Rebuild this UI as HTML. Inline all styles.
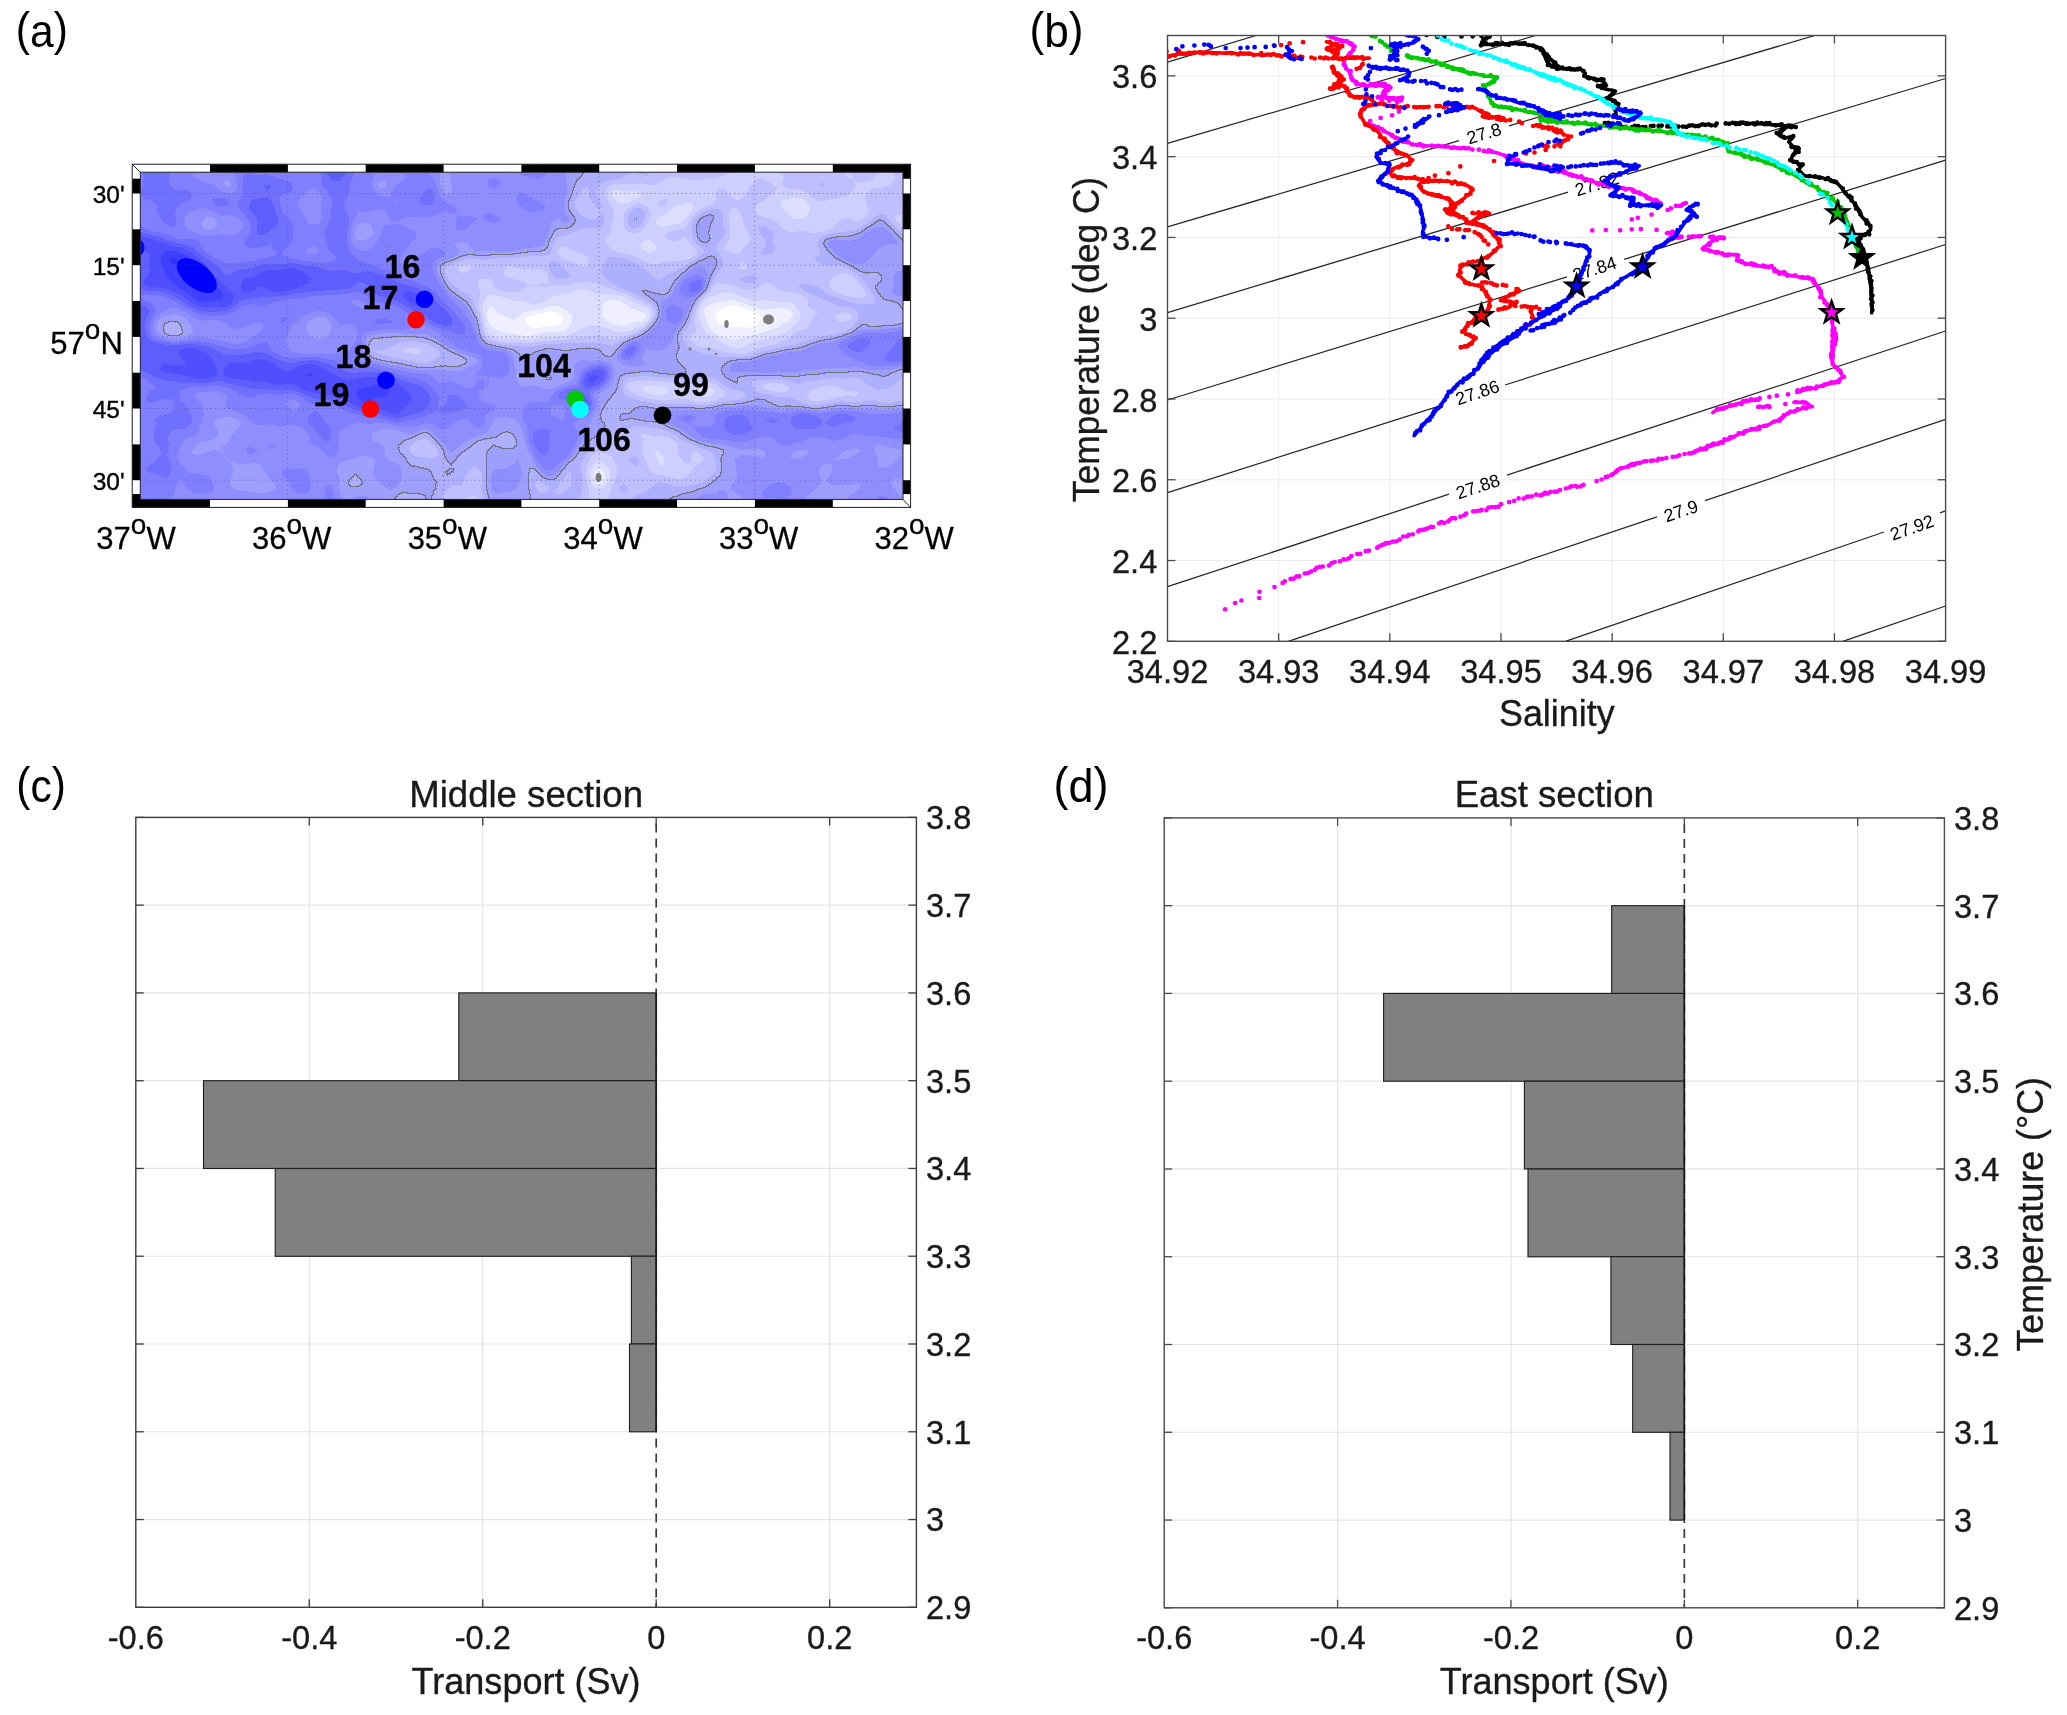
<!DOCTYPE html>
<html><head><meta charset="utf-8"><title>figure</title>
<style>
html,body{margin:0;padding:0;background:#fff;}
body{width:2067px;height:1715px;overflow:hidden;}
svg{display:block;font-family:"Liberation Sans", sans-serif;will-change:transform;}
</style></head><body>
<svg width="2067" height="1715" viewBox="0 0 2067 1715">
<rect width="2067" height="1715" fill="#ffffff"/>
<text x="15.8" y="45.099999999999994" font-size="47" fill="#000" textLength="52" lengthAdjust="spacingAndGlyphs">(<tspan dy="1.7">a</tspan><tspan dy="-1.7">)</tspan></text>
<text x="1029.5" y="45.099999999999994" font-size="47" fill="#000" textLength="54" lengthAdjust="spacingAndGlyphs">(<tspan dy="1.7">b</tspan><tspan dy="-1.7">)</tspan></text>
<text x="16.3" y="800.3" font-size="47" fill="#000" textLength="49.5" lengthAdjust="spacingAndGlyphs">(<tspan dy="1.7">c</tspan><tspan dy="-1.7">)</tspan></text>
<text x="1053.5" y="800.3" font-size="47" fill="#000" textLength="55" lengthAdjust="spacingAndGlyphs">(<tspan dy="1.7">d</tspan><tspan dy="-1.7">)</tspan></text>
<g id="panel-a">
<defs>
<linearGradient id="mbase" x1="0" x2="1" y1="0" y2="0">
<stop offset="0" stop-color="#7c7c7c"/><stop offset="0.45" stop-color="#868686"/><stop offset="0.6" stop-color="#a4a4a4"/><stop offset="1" stop-color="#a8a8a8"/>
</linearGradient>
<filter id="mapf" x="0" y="0" width="1" height="1" filterUnits="objectBoundingBox" color-interpolation-filters="sRGB">
<feGaussianBlur stdDeviation="4.5" result="b0"/>
<feTurbulence type="fractalNoise" baseFrequency="0.020 0.026" numOctaves="2" seed="5" result="n0"/>
<feColorMatrix in="n0" type="matrix" values="1 0 0 0 0  1 0 0 0 0  1 0 0 0 0  0 0 0 0 1" result="n"/>
<feComposite in="b0" in2="n" operator="arithmetic" k1="0" k2="1" k3="0.22" k4="-0.118" result="b"/>
<feComponentTransfer in="b" result="q">
<feFuncR type="discrete" tableValues="0 .06 .12 .19 .25 .31 .37 .44 .5 .56 .62 .69 .75 .81 .87 .94 1"/>
<feFuncG type="discrete" tableValues="0 .06 .12 .19 .25 .31 .37 .44 .5 .56 .62 .69 .75 .81 .87 .94 1"/>
<feFuncB type="discrete" tableValues="1 1"/>
<feFuncA type="discrete" tableValues="1 1"/>
</feComponentTransfer>
<feComponentTransfer in="b" result="bin">
<feFuncR type="discrete" tableValues="0 0 0 0 0 0 0 0 0 0 0 1 1 1 1 1 1"/>
</feComponentTransfer>
<feColorMatrix in="bin" type="matrix" values="0 0 0 0 0.45  0 0 0 0 0.45  0 0 0 0 0.5  1 0 0 0 0" result="binA"/>
<feMorphology in="binA" operator="dilate" radius="0.9" result="dil"/>
<feComposite in="dil" in2="binA" operator="out" result="edge"/>
<feMerge><feMergeNode in="q"/><feMergeNode in="edge"/></feMerge>
</filter>
<clipPath id="clipa"><rect x="132.2" y="164.2" width="778.4" height="343.2"/></clipPath>
</defs>
<g clip-path="url(#clipa)">
<g filter="url(#mapf)">
<rect x="92.19999999999999" y="124.19999999999999" width="858.4000000000001" height="423.2" fill="url(#mbase)"/>
<ellipse cx="197.7" cy="219.0" rx="20.5" ry="16.2" fill="#949494" transform="rotate(20 197.7 219.0)"/>
<ellipse cx="227.9" cy="184.5" rx="8.6" ry="8.6" fill="#949494"/>
<ellipse cx="173.9" cy="333.3" rx="23.7" ry="20.5" fill="#949494"/>
<ellipse cx="175.0" cy="335.5" rx="11.9" ry="12.9" fill="#a1a1a1"/>
<polygon points="240.8,162.9 271.0,162.9 279.6,221.2 258.1,240.6 245.1,214.7" fill="#6e6e6e"/>
<polygon points="320.6,162.9 348.6,162.9 348.6,251.4 327.1,251.4" fill="#6e6e6e"/>
<polygon points="141.6,162.9 171.8,162.9 169.6,195.3 141.6,201.8" fill="#707070"/>
<ellipse cx="363.7" cy="236.3" rx="15.1" ry="18.3" fill="#949494"/>
<ellipse cx="381.0" cy="184.5" rx="8.6" ry="6.5" fill="#9e9e9e"/>
<polygon points="132.9,232.0 163.1,238.4 191.2,247.1 221.4,266.5 240.8,288.1 232.2,307.5 210.6,316.1 184.7,307.5 163.1,292.4 132.9,288.1" fill="#5c5c5c"/>
<polygon points="163.1,251.4 191.2,257.9 217.1,279.4 221.4,298.8 202.0,303.1 176.1,288.1" fill="#4c4c4c"/>
<polygon points="221.4,270.8 249.4,262.2 292.6,260.0 335.7,262.2 368.1,270.8 400.4,279.4 426.3,290.2 450.0,309.6 473.8,320.4 465.1,335.5 439.2,329.0 417.7,313.9 389.6,301.0 357.3,296.7 314.1,294.5 271.0,298.8 232.2,301.0" fill="#696969"/>
<polygon points="240.8,279.4 271.0,268.6 314.1,267.6 346.5,274.0 357.3,282.7 335.7,290.2 303.3,288.1 271.0,292.4 243.0,291.3" fill="#545454"/>
<polygon points="396.1,288.1 426.3,296.7 447.9,316.1 465.1,326.9 456.5,333.3 430.6,322.6 411.2,307.5" fill="#595959"/>
<polygon points="132.9,337.7 163.1,339.8 212.8,344.1 221.4,367.9 214.9,383.0 184.7,385.1 132.9,372.2" fill="#5e5e5e"/>
<polygon points="132.9,301.0 154.5,305.3 145.9,344.1 132.9,344.1" fill="#666666"/>
<polygon points="212.8,344.1 249.4,350.6 292.6,357.1 335.7,361.4 368.1,367.9 400.4,376.5 430.6,385.1 437.1,395.9 422.0,413.2 400.4,421.8 368.1,415.3 335.7,404.5 292.6,393.7 249.4,389.4 217.1,385.1" fill="#666666"/>
<polygon points="227.9,357.1 271.0,363.5 314.1,365.7 357.3,372.2 389.6,380.8 422.0,389.4 417.7,404.5 396.1,413.2 357.3,406.7 324.9,395.9 292.6,387.3 249.4,383.0 223.5,376.5" fill="#545454"/>
<ellipse cx="320.6" cy="333.3" rx="36.7" ry="20.5" fill="#999999"/>
<ellipse cx="322.8" cy="328.0" rx="12.9" ry="12.9" fill="#adadad"/>
<polygon points="363.7,335.5 389.6,331.2 422.0,337.7 454.3,350.6 482.4,357.1 480.2,365.7 456.5,367.9 422.0,370.0 389.6,363.5 368.1,357.1" fill="#b2b2b2"/>
<ellipse cx="406.9" cy="350.6" rx="19.4" ry="7.5" fill="#c2c2c2"/>
<polygon points="169.6,430.4 227.9,415.3 314.1,430.4 335.7,462.8 324.9,516.7 173.9,516.7" fill="#8f8f8f"/>
<ellipse cx="271.0" cy="473.6" rx="28.0" ry="17.3" fill="#999999"/>
<ellipse cx="206.3" cy="452.0" rx="21.6" ry="12.9" fill="#949494"/>
<polygon points="387.5,516.7 400.4,469.2 411.2,439.0 426.3,428.3 439.2,445.5 447.9,460.6 486.7,436.9 508.3,419.6 523.4,428.3 529.8,452.0 551.4,456.3 551.4,516.7" fill="#adadad"/>
<polygon points="335.7,430.4 389.6,421.8 411.2,439.0 389.6,516.7 335.7,516.7" fill="#999999"/>
<ellipse cx="475.9" cy="495.1" rx="34.5" ry="23.7" fill="#c2c2c2"/>
<polygon points="437.1,262.2 465.1,257.9 551.4,253.5 551.4,344.1 519.1,339.8 486.7,322.6 465.1,301.0 443.6,288.1" fill="#bdbdbd"/>
<polygon points="473.8,279.4 508.3,270.8 551.4,270.8 551.4,335.5 519.1,329.0 486.7,305.3" fill="#d1d1d1"/>
<polygon points="439.2,162.9 551.4,162.9 551.4,251.4 465.1,253.5 439.2,240.6" fill="#8f8f8f"/>
<ellipse cx="443.6" cy="186.7" rx="6.5" ry="10.8" fill="#a8a8a8"/>
<polygon points="590.8,164.3 743.8,164.3 739.1,250.4 715.2,283.9 667.3,293.4 600.4,283.9 559.8,274.3 547.8,240.8 571.7,197.8" fill="#b8b8b8"/>
<polygon points="607.6,183.5 715.2,178.7 727.1,228.9 705.6,257.6 643.4,264.8 610.0,250.4" fill="#cccccc"/>
<ellipse cx="674.5" cy="215.7" rx="21.5" ry="8.4" fill="#e6e6e6" transform="rotate(-25 674.5 215.7)"/>
<polygon points="488.0,164.3 571.7,164.3 559.8,209.8 523.9,245.6 488.0,257.6" fill="#8c8c8c"/>
<ellipse cx="564.5" cy="219.3" rx="9.6" ry="10.8" fill="#9e9e9e"/>
<ellipse cx="636.3" cy="216.9" rx="9.6" ry="13.1" fill="#9e9e9e" transform="rotate(20 636.3 216.9)"/>
<polygon points="480.9,283.9 523.9,276.7 571.7,279.1 607.6,286.3 643.4,298.2 667.3,312.6 657.8,331.7 624.3,338.9 583.7,346.0 547.8,343.6 512.0,348.4 480.9,341.3" fill="#cccccc"/>
<polygon points="485.7,295.8 523.9,287.5 559.8,289.9 595.6,294.6 631.5,304.2 657.8,315.0 648.2,326.9 614.8,331.7 578.9,336.5 543.0,334.1 509.6,336.5 485.7,331.7" fill="#dedede"/>
<ellipse cx="540.6" cy="317.3" rx="21.5" ry="7.7" fill="#f7f7f7"/>
<ellipse cx="612.4" cy="317.3" rx="16.7" ry="5.3" fill="#ededed"/>
<polygon points="667.3,293.4 703.2,283.9 763.0,283.9 810.8,293.4 858.6,312.6 853.8,341.3 810.8,355.6 751.0,358.0 703.2,353.2 672.1,331.7" fill="#cccccc"/>
<polygon points="698.4,303.0 727.1,294.6 763.0,297.0 801.2,312.6 789.3,332.9 751.0,342.4 715.2,338.9 700.8,326.9" fill="#e0e0e0"/>
<ellipse cx="739.1" cy="317.3" rx="23.9" ry="9.6" fill="#f5f5f5"/>
<polygon points="555.0,408.2 578.9,379.5 612.4,355.6 643.4,331.7 665.0,303.0 681.7,274.3 698.4,255.2 715.2,250.4 722.3,264.8 710.4,279.1 696.0,303.0 676.9,336.5 648.2,365.2 619.5,389.1 600.4,413.0 571.7,422.5" fill="#949494"/>
<ellipse cx="595.6" cy="377.1" rx="16.7" ry="10.8" fill="#5c5c5c" transform="rotate(-35 595.6 377.1)"/>
<ellipse cx="629.1" cy="350.8" rx="12.0" ry="7.2" fill="#666666" transform="rotate(-40 629.1 350.8)"/>
<ellipse cx="698.4" cy="287.5" rx="9.6" ry="6.0" fill="#666666" transform="rotate(-20 698.4 287.5)"/>
<ellipse cx="571.7" cy="403.4" rx="21.5" ry="14.3" fill="#616161"/>
<polygon points="715.2,164.3 918.4,164.3 918.4,298.2 858.6,303.0 798.8,283.9 739.1,274.3 724.7,221.7" fill="#c2c2c2"/>
<polygon points="818.0,240.8 858.6,231.3 882.5,212.2 904.0,240.8 918.4,250.4 918.4,293.4 882.5,303.0 863.4,283.9 846.6,262.4" fill="#999999"/>
<ellipse cx="786.9" cy="209.8" rx="28.7" ry="19.1" fill="#d1d1d1"/>
<ellipse cx="710.4" cy="228.9" rx="16.7" ry="21.5" fill="#9e9e9e" transform="rotate(30 710.4 228.9)"/>
<ellipse cx="770.1" cy="283.9" rx="12.0" ry="9.6" fill="#c7c7c7"/>
<polygon points="715.2,372.3 763.0,353.2 810.8,343.6 858.6,331.7 918.4,322.1 918.4,367.5 834.7,371.1 763.0,374.7" fill="#8c8c8c"/>
<polygon points="834.7,343.6 870.5,334.1 918.4,328.1 918.4,361.6 863.4,364.0" fill="#757575"/>
<polygon points="734.3,371.1 786.9,380.7 834.7,375.9 918.4,365.2 918.4,404.6 834.7,407.0 798.8,399.8 763.0,390.3 736.7,380.7" fill="#b8b8b8"/>
<ellipse cx="774.9" cy="387.9" rx="19.1" ry="5.3" fill="#cccccc"/>
<ellipse cx="863.4" cy="393.8" rx="47.8" ry="6.0" fill="#cccccc"/>
<polygon points="620.7,380.7 643.4,372.3 691.3,378.3 739.1,389.1 753.4,398.6 691.3,407.0 643.4,401.0 624.3,391.5" fill="#c7c7c7"/>
<ellipse cx="679.3" cy="389.1" rx="40.6" ry="8.4" fill="#d6d6d6"/>
<polygon points="655.4,409.4 715.2,407.0 786.9,409.4 918.4,407.0 918.4,451.2 810.8,451.2 715.2,444.0 667.3,424.9" fill="#8a8a8a"/>
<polygon points="715.2,413.0 810.8,411.8 918.4,413.0 918.4,436.9 810.8,439.3 727.1,432.1" fill="#7a7a7a"/>
<ellipse cx="808.4" cy="418.9" rx="12.0" ry="8.4" fill="#666666" transform="rotate(30 808.4 418.9)"/>
<polygon points="703.2,460.8 739.1,448.8 918.4,451.2 918.4,508.6 691.3,508.6" fill="#949494"/>
<polygon points="547.8,508.6 559.8,472.7 578.9,448.8 607.6,432.1 643.4,424.9 667.3,432.1 710.4,448.8 718.7,468.0 703.2,484.7 648.2,490.7 633.9,508.6" fill="#b8b8b8"/>
<ellipse cx="672.1" cy="458.4" rx="31.1" ry="19.1" fill="#cccccc"/>
<ellipse cx="600.4" cy="477.5" rx="16.7" ry="26.3" fill="#d1d1d1"/>
<ellipse cx="598.0" cy="477.5" rx="8.4" ry="10.8" fill="#f7f7f7"/>
<polygon points="521.5,401.0 571.7,398.6 578.9,436.9 562.2,470.3 543.0,479.9 528.7,448.8" fill="#808080"/>
<polygon points="485.7,413.0 521.5,417.8 526.3,460.8 538.3,508.6 485.7,508.6" fill="#9e9e9e"/>
<polygon points="509.6,343.6 571.7,341.3 578.9,379.5 559.8,386.7 514.3,379.5" fill="#a8a8a8"/>
</g>
<ellipse cx="196.8" cy="275.6" rx="23.5" ry="12.5" fill="#0000ff" transform="rotate(38 196.8 275.6)"/>
<ellipse cx="138" cy="247.5" rx="6.5" ry="8" fill="#0000ff"/>
<ellipse cx="768.5" cy="319.5" rx="5.5" ry="5" fill="#7d7d7d"/>
<ellipse cx="726.5" cy="324" rx="2.2" ry="4" fill="#7d7d7d"/>
<ellipse cx="598.5" cy="477.5" rx="3" ry="4.5" fill="#7d7d7d"/>
<ellipse cx="709" cy="349" rx="1.5" ry="1.5" fill="#7d7d7d"/>
<ellipse cx="690" cy="349" rx="1.5" ry="1.5" fill="#7d7d7d"/>
<ellipse cx="716" cy="354" rx="1.3" ry="1.3" fill="#7d7d7d"/>
<line x1="287.70" y1="172.20" x2="287.70" y2="499.40" stroke="#5a5a8c" stroke-width="0.9" stroke-dasharray="1.2 3.2" opacity="0.75"/>
<line x1="443.40" y1="172.20" x2="443.40" y2="499.40" stroke="#5a5a8c" stroke-width="0.9" stroke-dasharray="1.2 3.2" opacity="0.75"/>
<line x1="599.00" y1="172.20" x2="599.00" y2="499.40" stroke="#5a5a8c" stroke-width="0.9" stroke-dasharray="1.2 3.2" opacity="0.75"/>
<line x1="754.70" y1="172.20" x2="754.70" y2="499.40" stroke="#5a5a8c" stroke-width="0.9" stroke-dasharray="1.2 3.2" opacity="0.75"/>
<line x1="140.30" y1="193.50" x2="903.00" y2="193.50" stroke="#5a5a8c" stroke-width="0.9" stroke-dasharray="1.2 3.2" opacity="0.75"/>
<line x1="140.30" y1="265.20" x2="903.00" y2="265.20" stroke="#5a5a8c" stroke-width="0.9" stroke-dasharray="1.2 3.2" opacity="0.75"/>
<line x1="140.30" y1="336.90" x2="903.00" y2="336.90" stroke="#5a5a8c" stroke-width="0.9" stroke-dasharray="1.2 3.2" opacity="0.75"/>
<line x1="140.30" y1="408.50" x2="903.00" y2="408.50" stroke="#5a5a8c" stroke-width="0.9" stroke-dasharray="1.2 3.2" opacity="0.75"/>
<line x1="140.30" y1="480.20" x2="903.00" y2="480.20" stroke="#5a5a8c" stroke-width="0.9" stroke-dasharray="1.2 3.2" opacity="0.75"/>
</g>
<rect x="132.2" y="164.2" width="778.4000000000001" height="8.0" fill="#fff"/>
<rect x="132.2" y="499.4" width="778.4000000000001" height="8.0" fill="#fff"/>
<rect x="132.2" y="164.2" width="8.100000000000023" height="343.2" fill="#fff"/>
<rect x="903.0" y="164.2" width="7.600000000000023" height="343.2" fill="#fff"/>
<polygon points="140.3,499.4 210.0,499.4 210.0,507.4 132.2,507.4" fill="#000"/>
<polygon points="210.0,164.2 287.9,164.2 287.9,172.2 210.0,172.2" fill="#000"/>
<polygon points="287.9,499.4 365.7,499.4 365.7,507.4 287.9,507.4" fill="#000"/>
<polygon points="365.7,164.2 443.6,164.2 443.6,172.2 365.7,172.2" fill="#000"/>
<polygon points="443.6,499.4 521.4,499.4 521.4,507.4 443.6,507.4" fill="#000"/>
<polygon points="521.4,164.2 599.2,164.2 599.2,172.2 521.4,172.2" fill="#000"/>
<polygon points="599.2,499.4 677.1,499.4 677.1,507.4 599.2,507.4" fill="#000"/>
<polygon points="677.1,164.2 754.9,164.2 754.9,172.2 677.1,172.2" fill="#000"/>
<polygon points="754.9,499.4 832.8,499.4 832.8,507.4 754.9,507.4" fill="#000"/>
<polygon points="832.8,164.2 910.6,164.2 903.0,172.2 832.8,172.2" fill="#000"/>
<polygon points="903.0,172.2 910.6,164.2 910.6,178.7 903.0,178.7" fill="#000"/>
<polygon points="132.2,178.7 140.3,178.7 140.3,193.5 132.2,193.5" fill="#000"/>
<polygon points="903.0,193.5 910.6,193.5 910.6,229.3 903.0,229.3" fill="#000"/>
<polygon points="132.2,229.3 140.3,229.3 140.3,265.2 132.2,265.2" fill="#000"/>
<polygon points="903.0,265.2 910.6,265.2 910.6,301.0 903.0,301.0" fill="#000"/>
<polygon points="132.2,301.0 140.3,301.0 140.3,336.9 132.2,336.9" fill="#000"/>
<polygon points="903.0,336.9 910.6,336.9 910.6,372.7 903.0,372.7" fill="#000"/>
<polygon points="132.2,372.7 140.3,372.7 140.3,408.5 132.2,408.5" fill="#000"/>
<polygon points="903.0,408.5 910.6,408.5 910.6,444.4 903.0,444.4" fill="#000"/>
<polygon points="132.2,444.4 140.3,444.4 140.3,480.2 132.2,480.2" fill="#000"/>
<polygon points="903.0,480.2 910.6,480.2 910.6,494.1 903.0,494.1" fill="#000"/>
<polygon points="132.2,494.1 140.3,494.1 140.3,499.4 132.2,507.4" fill="#000"/>
<rect x="132.2" y="499.4" width="8.100000000000023" height="8.0" fill="#000"/>
<rect x="903.0" y="164.2" width="7.600000000000023" height="8.0" fill="#000"/>
<rect x="132.2" y="164.2" width="778.4000000000001" height="343.2" fill="none" stroke="#222" stroke-width="1"/>
<rect x="140.3" y="172.2" width="762.7" height="327.2" fill="none" stroke="#222" stroke-width="1"/>
<line x1="132.20" y1="164.20" x2="140.30" y2="172.20" stroke="#222" stroke-width="1" />
<line x1="910.60" y1="507.40" x2="903.00" y2="499.40" stroke="#222" stroke-width="1" />
<circle cx="424.5" cy="299.3" r="8.8" fill="#0000ff"/>
<circle cx="416" cy="319.8" r="8.8" fill="#ff0000"/>
<circle cx="386" cy="380.2" r="8.8" fill="#0000ff"/>
<circle cx="370.5" cy="409" r="8.8" fill="#ff0000"/>
<circle cx="575.5" cy="399" r="8.8" fill="#00c800"/>
<circle cx="580" cy="409.5" r="8.8" fill="#00ffff"/>
<circle cx="662.5" cy="415.3" r="8.8" fill="#000000"/>
<text x="402.5" y="277.5" font-size="34" text-anchor="middle" fill="#000" stroke="#000" stroke-width="0.35" font-weight="bold" textLength="35.8" lengthAdjust="spacingAndGlyphs">16</text>
<text x="380.5" y="308.5" font-size="34" text-anchor="middle" fill="#000" stroke="#000" stroke-width="0.35" font-weight="bold" textLength="35.8" lengthAdjust="spacingAndGlyphs">17</text>
<text x="353.5" y="367.5" font-size="34" text-anchor="middle" fill="#000" stroke="#000" stroke-width="0.35" font-weight="bold" textLength="35.8" lengthAdjust="spacingAndGlyphs">18</text>
<text x="331.5" y="406.0" font-size="34" text-anchor="middle" fill="#000" stroke="#000" stroke-width="0.35" font-weight="bold" textLength="35.8" lengthAdjust="spacingAndGlyphs">19</text>
<text x="544.0" y="376.5" font-size="34" text-anchor="middle" fill="#000" stroke="#000" stroke-width="0.35" font-weight="bold" textLength="53.7" lengthAdjust="spacingAndGlyphs">104</text>
<text x="691.0" y="395.5" font-size="34" text-anchor="middle" fill="#000" stroke="#000" stroke-width="0.35" font-weight="bold" textLength="35.8" lengthAdjust="spacingAndGlyphs">99</text>
<text x="604.0" y="450.5" font-size="34" text-anchor="middle" fill="#000" stroke="#000" stroke-width="0.35" font-weight="bold" textLength="53.7" lengthAdjust="spacingAndGlyphs">106</text>
<text x="124.6" y="202.8" font-size="24.5" text-anchor="end" fill="#000" stroke="#000" stroke-width="0.35" font-weight="normal" >30'</text>
<text x="124.6" y="274.5" font-size="24.5" text-anchor="end" fill="#000" stroke="#000" stroke-width="0.35" font-weight="normal" >15'</text>
<text x="124.6" y="417.8" font-size="24.5" text-anchor="end" fill="#000" stroke="#000" stroke-width="0.35" font-weight="normal" >45'</text>
<text x="124.6" y="489.5" font-size="24.5" text-anchor="end" fill="#000" stroke="#000" stroke-width="0.35" font-weight="normal" >30'</text>
<text x="122.8" y="354.3" font-size="31" text-anchor="end" fill="#000" stroke="#000" stroke-width="0.3">57<tspan font-size="28" dy="-15">o</tspan><tspan dy="15">N</tspan></text>
<text x="136.0" y="548.7" font-size="31" text-anchor="middle" fill="#000" stroke="#000" stroke-width="0.3">37<tspan font-size="28" dy="-15">o</tspan><tspan dy="15">W</tspan></text>
<text x="291.6" y="548.7" font-size="31" text-anchor="middle" fill="#000" stroke="#000" stroke-width="0.3">36<tspan font-size="28" dy="-15">o</tspan><tspan dy="15">W</tspan></text>
<text x="447.3" y="548.7" font-size="31" text-anchor="middle" fill="#000" stroke="#000" stroke-width="0.3">35<tspan font-size="28" dy="-15">o</tspan><tspan dy="15">W</tspan></text>
<text x="603.0" y="548.7" font-size="31" text-anchor="middle" fill="#000" stroke="#000" stroke-width="0.3">34<tspan font-size="28" dy="-15">o</tspan><tspan dy="15">W</tspan></text>
<text x="758.6" y="548.7" font-size="31" text-anchor="middle" fill="#000" stroke="#000" stroke-width="0.3">33<tspan font-size="28" dy="-15">o</tspan><tspan dy="15">W</tspan></text>
<text x="914.2" y="548.7" font-size="31" text-anchor="middle" fill="#000" stroke="#000" stroke-width="0.3">32<tspan font-size="28" dy="-15">o</tspan><tspan dy="15">W</tspan></text>
</g>
<g id="panel-b">
<clipPath id="clipb"><rect x="1167.5" y="35.5" width="778.0999999999999" height="605.8"/></clipPath>
<line x1="1278.66" y1="35.50" x2="1278.66" y2="641.30" stroke="#ebebeb" stroke-width="1.0" />
<line x1="1389.81" y1="35.50" x2="1389.81" y2="641.30" stroke="#ebebeb" stroke-width="1.0" />
<line x1="1500.97" y1="35.50" x2="1500.97" y2="641.30" stroke="#ebebeb" stroke-width="1.0" />
<line x1="1612.13" y1="35.50" x2="1612.13" y2="641.30" stroke="#ebebeb" stroke-width="1.0" />
<line x1="1723.29" y1="35.50" x2="1723.29" y2="641.30" stroke="#ebebeb" stroke-width="1.0" />
<line x1="1834.44" y1="35.50" x2="1834.44" y2="641.30" stroke="#ebebeb" stroke-width="1.0" />
<line x1="1167.50" y1="75.89" x2="1945.60" y2="75.89" stroke="#ebebeb" stroke-width="1.0" />
<line x1="1167.50" y1="156.66" x2="1945.60" y2="156.66" stroke="#ebebeb" stroke-width="1.0" />
<line x1="1167.50" y1="237.43" x2="1945.60" y2="237.43" stroke="#ebebeb" stroke-width="1.0" />
<line x1="1167.50" y1="318.21" x2="1945.60" y2="318.21" stroke="#ebebeb" stroke-width="1.0" />
<line x1="1167.50" y1="398.98" x2="1945.60" y2="398.98" stroke="#ebebeb" stroke-width="1.0" />
<line x1="1167.50" y1="479.75" x2="1945.60" y2="479.75" stroke="#ebebeb" stroke-width="1.0" />
<line x1="1167.50" y1="560.53" x2="1945.60" y2="560.53" stroke="#ebebeb" stroke-width="1.0" />
<g clip-path="url(#clipb)" stroke="#262626" stroke-width="1.25" fill="none">
<line x1="1167.5" y1="62.1" x2="1257.9" y2="35.0"/>
<line x1="1167.5" y1="143.3" x2="1537.3" y2="35.0"/>
<line x1="1167.5" y1="226.9" x2="1459.0" y2="140.7"/>
<line x1="1509.0" y1="125.9" x2="1816.4" y2="35.0"/>
<line x1="1167.5" y1="312.6" x2="1568.0" y2="192.1"/>
<line x1="1627.0" y1="174.4" x2="1945.6" y2="78.5"/>
<line x1="1167.5" y1="400.0" x2="1567.0" y2="276.9"/>
<line x1="1624.0" y1="259.3" x2="1945.6" y2="160.2"/>
<line x1="1167.5" y1="492.6" x2="1443.0" y2="404.8"/>
<line x1="1505.0" y1="385.0" x2="1945.6" y2="244.5"/>
<line x1="1167.5" y1="586.7" x2="1449.0" y2="494.2"/>
<line x1="1507.0" y1="475.1" x2="1945.6" y2="331.0"/>
<line x1="1288.3" y1="641.3" x2="1657.0" y2="516.8"/>
<line x1="1705.0" y1="500.6" x2="1945.6" y2="419.4"/>
<line x1="1565.4" y1="641.3" x2="1884.0" y2="532.0"/>
<line x1="1940.0" y1="512.8" x2="1945.6" y2="510.9"/>
<line x1="1842.8" y1="641.3" x2="1945.6" y2="606.0"/>
</g>
<text x="1484" y="139.7" font-size="18" text-anchor="middle" fill="#000" transform="rotate(-17 1484 133.5)">27.8</text>
<text x="1597" y="190.2" font-size="18" text-anchor="middle" fill="#000" transform="rotate(-17 1597 184)">27.82</text>
<text x="1594.5" y="275.0" font-size="18" text-anchor="middle" fill="#000" transform="rotate(-17.5 1594.5 268.8)">27.84</text>
<text x="1477.5" y="398.7" font-size="18" text-anchor="middle" fill="#000" transform="rotate(-18.5 1477.5 392.5)">27.86</text>
<text x="1478" y="492.7" font-size="18" text-anchor="middle" fill="#000" transform="rotate(-18.5 1478 486.5)">27.88</text>
<text x="1681" y="517.2" font-size="18" text-anchor="middle" fill="#000" transform="rotate(-19 1681 511)">27.9</text>
<text x="1912" y="533.7" font-size="18" text-anchor="middle" fill="#000" transform="rotate(-19 1912 527.5)">27.92</text>
<g clip-path="url(#clipb)" fill="none" stroke-linecap="round" stroke-linejoin="round">
<path d="M1426.5 34.9h.01M1437.4 36.9h.01M1444.3 37.3h.01M1461.5 36.4h.01M1472.7 36.3h.01M1481.5 35.9h.01" stroke="#000000" stroke-width="4.7"/>
<path d="M1489.7 36.0 1487.1 36.9 1485.5 38.4 1483.1 40.1 1481.9 42.3 1481.3 44.7 1484.1 44.5 1486.8 44.5 1489.5 44.2 1492.7 44.9 1495.3 44.6 1497.5 44.1 1500.1 43.8 1503.1 44.0 1505.8 43.8 1508.6 44.2 1510.2 43.4 1513.7 43.5 1516.4 43.3 1518.1 43.8 1521.3 43.6 1523.1 44.0 1526.6 44.6 1528.8 44.9 1531.8 45.5 1535.5 46.3 1538.4 47.4 1540.0 49.4 1542.0 51.0 1544.0 52.4 1545.1 55.3 1546.9 58.9 1547.6 61.4 1548.8 63.2 1550.8 65.9 1552.5 67.0 1555.0 67.0 1557.9 67.8 1559.8 68.3 1557.6 66.8 1555.8 64.8 1553.9 62.6 1552.5 60.6 1550.1 59.0 1547.7 56.2 1546.4 54.9 1543.8 52.2 1542.2 50.9 1539.7 48.9 1542.4 50.6 1544.0 52.1 1544.6 56.0 1545.8 58.8 1546.9 61.5 1548.2 63.5 1550.5 65.3 1553.1 66.1 1556.3 68.1 1558.9 67.9 1561.8 68.3 1563.4 68.7 1566.4 68.9 1568.9 69.2 1572.2 69.0 1574.8 69.8 1578.3 69.5 1580.8 69.5 1582.8 70.6 1585.2 73.2 1583.9 76.3 1586.3 76.7 1589.8 77.5 1592.7 78.4 1595.0 78.7 1598.2 79.8 1600.7 80.4 1603.3 81.4 1604.4 83.2 1606.4 85.4 1603.6 86.0 1601.7 86.5 1599.1 86.9 1602.1 87.9 1604.6 88.7 1608.6 89.7 1611.4 90.0 1615.4 91.2 1613.4 93.2 1611.4 94.8 1609.6 96.3 1607.0 98.0 1610.3 99.2 1613.3 100.7 1614.9 101.1 1617.0 103.2 1619.0 104.0 1617.1 106.0 1614.1 107.8 1615.0 110.1 1615.9 112.4 1615.0 114.4 1613.5 115.4 1616.3 117.4" stroke="#000000" stroke-width="3.6"/>
<path d="M1489.5 36.7h.01M1486.6 38.3h.01M1483.3 39.7h.01M1482.2 42.7h.01M1480.9 45.3h.01M1485.7 43.2h.01M1492.8 44.6h.01M1495.7 43.1h.01M1497.5 43.1h.01M1501.9 42.9h.01M1505.3 44.3h.01M1508.9 45.0h.01M1509.9 43.6h.01M1512.1 43.4h.01M1515.1 42.8h.01M1519.0 43.7h.01M1521.7 43.6h.01M1524.6 43.1h.01M1528.2 45.0h.01M1533.3 45.6h.01M1536.2 47.4h.01M1540.7 48.4h.01M1543.2 51.2h.01M1543.6 53.6h.01M1548.5 60.5h.01M1551.8 66.3h.01M1556.0 67.2h.01M1558.5 66.9h.01M1559.2 68.3h.01M1557.1 65.8h.01M1556.6 65.6h.01M1555.2 62.7h.01M1549.3 58.7h.01M1548.6 56.9h.01M1546.9 54.7h.01M1543.7 53.4h.01M1540.9 49.7h.01M1542.2 49.7h.01M1544.1 52.8h.01M1546.3 55.6h.01M1546.9 58.8h.01M1547.6 60.0h.01M1547.9 64.9h.01M1553.5 65.4h.01M1557.1 68.8h.01M1558.3 67.4h.01M1562.4 67.6h.01M1562.6 68.2h.01M1566.9 68.9h.01M1569.6 68.4h.01M1571.1 69.4h.01M1574.2 69.5h.01M1577.5 69.2h.01M1579.8 68.6h.01M1583.5 71.2h.01M1584.6 75.2h.01M1587.5 77.6h.01M1589.3 78.3h.01M1594.1 78.9h.01M1594.7 79.3h.01M1596.9 80.3h.01M1601.2 79.2h.01M1603.5 79.7h.01M1605.0 84.1h.01M1603.7 86.4h.01M1601.8 85.6h.01M1597.9 85.9h.01M1602.0 88.0h.01M1604.2 87.8h.01M1612.4 94.0h.01M1612.5 94.1h.01M1610.1 96.0h.01M1605.8 98.8h.01M1613.0 100.9h.01M1614.4 100.8h.01M1616.0 104.0h.01M1617.6 106.2h.01M1614.4 107.4h.01M1615.7 114.6h.01M1614.0 115.3h.01" stroke="#000000" stroke-width="4.7"/>
<path d="M1604.9 123.2h.01M1608.2 122.8h.01M1611.1 123.7h.01M1614.2 125.2h.01M1617.7 125.6h.01M1620.0 125.8h.01M1622.3 127.0h.01M1625.8 126.8h.01M1632.1 127.1h.01M1634.9 125.9h.01M1638.1 126.1h.01M1642.4 127.2h.01M1645.4 127.1h.01M1650.8 126.0h.01M1653.5 125.9h.01M1658.6 125.9h.01M1661.7 125.6h.01M1667.3 126.4h.01M1669.6 126.4h.01M1672.7 126.5h.01M1675.2 125.6h.01M1678.5 126.6h.01M1683.0 126.6h.01M1686.3 126.9h.01M1689.2 125.7h.01M1692.3 125.3h.01M1695.3 126.1h.01M1698.2 126.1h.01M1699.4 125.6h.01M1702.4 124.3h.01M1705.1 124.9h.01M1708.6 124.4h.01M1711.3 125.3h.01M1715.4 125.4h.01M1716.7 123.6h.01M1725.7 123.4h.01M1729.1 123.8h.01M1732.5 122.8h.01M1736.0 124.1h.01" stroke="#000000" stroke-width="4.7"/>
<path d="M1735.5 122.8 1737.4 123.0 1740.4 123.4 1742.8 123.3 1745.8 122.9 1749.5 123.5 1752.5 123.4 1755.4 123.3 1758.1 124.0 1761.4 123.5 1763.6 124.3 1766.9 124.4 1769.3 124.2 1772.4 124.9 1775.6 125.1 1779.3 125.1 1781.9 125.9 1784.9 125.7 1787.0 125.5 1790.1 125.6 1792.0 126.2 1795.0 126.5 1792.0 126.8 1789.0 126.5 1786.8 126.6 1783.7 127.5 1782.0 129.2 1779.4 131.5 1778.0 133.7 1779.4 135.4 1781.9 136.9 1784.3 138.3 1786.8 137.8 1789.8 137.0 1792.9 137.3 1791.4 139.1 1788.8 141.8 1790.6 143.9 1792.4 145.7 1794.3 148.3 1796.1 150.4 1799.2 148.7 1797.6 151.2 1795.3 152.1 1793.8 154.4 1792.0 156.6 1791.1 160.5 1793.3 161.5 1796.8 162.3 1798.9 164.3 1802.5 164.9 1800.2 167.5 1798.3 170.5 1799.9 171.8 1802.4 173.8 1804.4 175.4 1806.7 176.2 1809.8 176.0 1812.3 176.5 1815.2 177.0 1817.6 177.1 1820.6 177.4 1823.2 178.1 1825.7 178.9 1827.9 179.2 1830.4 180.1 1832.5 180.5 1834.3 182.1 1837.2 183.1 1838.4 184.3 1840.2 186.4 1842.2 188.2 1843.1 190.3 1845.0 193.0 1846.3 194.3 1848.4 196.9 1850.7 198.4 1851.7 200.5 1853.7 202.6 1855.9 205.4 1857.1 207.3 1858.8 209.7 1860.3 212.2 1861.1 215.1 1862.1 216.9 1864.3 219.3 1865.5 220.7 1867.9 222.4 1868.9 223.8 1870.5 227.1 1870.7 229.3 1869.5 231.1 1868.7 233.5 1865.6 233.9 1863.4 235.3 1861.4 236.6 1860.2 238.6 1858.7 241.3 1860.2 244.6 1861.8 247.1 1863.6 249.4 1863.9 251.8 1864.9 254.2 1865.7 257.6 1866.5 259.4 1866.6 263.1 1867.1 265.9 1868.1 269.4 1868.9 272.3 1869.1 275.3 1869.7 278.5 1869.9 281.5 1870.5 284.2 1871.1 286.9 1871.6 290.1 1871.2 292.9 1871.4 296.3 1871.9 298.9 1871.9 301.4 1871.6 304.5 1872.2 307.5 1872.0 309.4 1871.7 312.8" stroke="#000000" stroke-width="3.6"/>
<path d="M1735.2 123.1h.01M1739.1 124.0h.01M1740.8 122.7h.01M1743.3 122.7h.01M1746.0 123.8h.01M1748.5 124.0h.01M1753.5 123.7h.01M1755.0 124.5h.01M1757.3 122.7h.01M1761.6 123.0h.01M1764.8 124.2h.01M1766.1 123.2h.01M1769.4 123.1h.01M1775.8 125.3h.01M1779.6 125.0h.01M1781.6 124.4h.01M1785.0 127.0h.01M1787.5 126.2h.01M1789.3 125.6h.01M1791.4 125.8h.01M1795.8 127.1h.01M1791.3 127.2h.01M1786.3 127.0h.01M1784.4 128.6h.01M1782.4 130.3h.01M1780.9 132.0h.01M1776.7 133.1h.01M1780.3 134.7h.01M1783.8 136.9h.01M1791.0 137.3h.01M1793.2 136.2h.01M1791.5 146.8h.01M1795.3 147.3h.01M1796.9 149.2h.01M1798.0 147.8h.01M1798.6 152.0h.01M1795.0 153.0h.01M1793.5 154.6h.01M1790.2 160.1h.01M1793.5 161.7h.01M1796.6 162.1h.01M1798.9 164.4h.01M1802.6 164.4h.01M1798.0 170.1h.01M1800.6 172.7h.01M1802.1 175.0h.01M1809.4 176.2h.01M1815.1 176.4h.01M1819.3 177.7h.01M1825.6 179.1h.01M1828.0 178.0h.01M1830.0 179.9h.01M1831.5 181.0h.01M1834.0 181.4h.01M1836.0 182.1h.01M1842.7 188.5h.01M1845.5 192.9h.01M1849.2 195.8h.01M1851.5 197.5h.01M1851.6 200.4h.01M1855.0 203.7h.01M1855.3 205.5h.01M1856.1 208.7h.01M1859.0 211.1h.01M1860.3 214.2h.01M1866.5 220.3h.01M1866.6 223.4h.01M1870.4 226.0h.01M1868.5 231.9h.01M1869.2 234.3h.01M1864.9 234.9h.01M1860.0 235.7h.01M1860.6 238.2h.01M1858.4 241.9h.01M1860.1 244.6h.01M1862.4 249.1h.01M1864.0 255.1h.01M1866.6 257.1h.01M1866.2 258.6h.01M1866.3 262.2h.01M1867.6 269.6h.01M1868.2 272.1h.01M1870.3 276.3h.01M1869.7 278.7h.01M1871.4 281.1h.01M1871.0 284.6h.01M1871.4 288.0h.01M1871.2 291.2h.01M1871.5 294.5h.01M1872.4 295.5h.01M1871.0 298.9h.01M1872.5 302.5h.01M1871.7 303.8h.01M1871.8 306.0h.01M1872.4 310.1h.01" stroke="#000000" stroke-width="4.7"/>
<path d="M1368.9 33.9h.01M1372.0 36.1h.01M1375.3 36.7h.01M1379.9 40.9h.01M1381.8 42.0h.01M1384.8 44.6h.01M1387.4 46.6h.01M1390.6 47.8h.01M1391.3 50.9h.01" stroke="#00c800" stroke-width="4.7"/>
<path d="M1406.5 55.7 1408.8 56.4 1411.3 57.3 1413.9 57.2 1417.4 58.4 1419.7 58.5 1423.1 58.8 1425.5 60.3 1428.2 60.5 1431.4 61.3 1434.2 61.7 1438.2 63.2 1441.0 63.4 1442.9 64.6 1445.4 65.3 1448.5 66.0 1450.3 67.4 1453.1 67.3 1455.3 68.7 1457.4 69.2 1460.5 70.6 1462.8 71.4 1465.1 71.7 1468.2 72.3 1470.8 72.7 1473.1 73.2 1476.0 73.8 1478.4 74.4 1481.4 75.1 1484.1 76.1 1487.0 76.3 1489.2 76.2 1491.8 76.8 1494.8 76.7 1497.2 77.0 1495.4 79.5 1494.0 82.2 1490.8 82.9 1488.2 84.4 1485.8 85.3 1483.6 86.5 1484.0 88.4 1485.3 90.7 1487.2 93.0 1488.4 95.2 1489.1 97.1 1490.3 99.8 1491.2 103.4 1494.1 104.7 1497.6 106.4 1499.9 107.0 1502.6 107.5 1505.7 107.3 1507.8 107.9 1510.9 108.4 1513.2 109.3 1515.7 109.2 1518.7 109.7 1521.3 110.1 1524.8 111.2 1527.9 112.2 1530.3 112.5 1533.8 112.6 1536.5 113.6 1539.4 114.3 1541.3 114.5 1543.8 114.8 1546.7 114.8 1549.4 115.6 1552.1 116.0 1554.4 116.5 1557.4 116.8 1560.2 117.3 1556.8 117.7 1554.2 117.8 1551.5 118.6 1548.6 118.9 1545.2 118.9 1542.7 118.8 1539.9 119.1 1543.0 120.2 1546.1 120.4 1548.9 120.6 1552.0 122.0 1555.0 121.5 1557.8 121.6 1560.3 122.2 1563.5 122.1 1565.8 122.9 1568.7 122.7 1571.3 122.7 1573.8 122.7 1576.9 123.5 1579.2 123.7 1581.5 123.1 1584.7 123.4 1587.3 124.5 1589.8 124.0 1592.6 124.8 1595.3 124.5 1598.3 125.2 1600.7 125.7 1604.0 126.0 1606.9 126.3 1610.0 127.0 1612.4 126.7 1615.9 126.9 1618.6 127.6 1621.5 128.2 1624.5 127.7 1627.2 128.3 1630.1 128.4 1632.7 129.1 1635.8 128.9 1638.5 129.3 1641.3 129.7 1644.1 129.5 1647.0 129.8 1650.5 130.0 1653.2 130.9 1656.1 130.6 1659.4 131.5 1661.5 131.1 1664.8 132.0 1667.6 132.3 1670.4 132.6 1673.4 132.6 1676.7 133.4 1679.7 133.5 1682.2 134.0 1685.3 134.6 1688.4 134.3 1690.8 135.3 1693.6 135.2 1696.3 136.1 1700.1 136.9 1702.2 137.0 1705.3 137.6 1708.2 138.5 1711.6 138.2 1714.2 138.9 1716.3 139.7 1719.6 141.4 1721.5 141.8 1723.9 143.0 1726.9 143.8 1727.4 146.6 1728.6 148.5 1728.9 151.2 1732.1 152.4 1734.6 152.9 1737.6 153.8 1740.0 154.0 1742.8 155.6 1745.7 156.0 1748.3 156.7 1750.9 157.7 1753.7 158.6 1756.5 159.1 1759.4 160.1 1762.1 160.8 1764.7 162.6 1767.8 162.8 1770.5 164.3 1774.2 165.0 1776.8 166.5 1779.0 168.0 1781.7 168.4 1784.6 170.2 1787.4 171.0 1790.4 172.8 1792.8 173.7 1795.0 175.3 1796.7 176.0 1799.1 177.4 1801.4 179.0 1804.4 180.3 1806.6 181.5 1808.8 183.8 1811.0 184.8 1814.2 186.5 1816.6 187.5 1819.1 189.6 1821.5 191.4 1823.3 193.0 1826.0 194.4 1828.3 196.2 1830.1 197.6 1832.4 199.2 1834.5 201.3 1837.0 202.8 1838.3 204.8 1839.5 207.4 1841.1 208.6 1842.6 211.3 1843.5 213.8 1844.9 216.3 1845.5 218.2 1846.5 221.0 1847.8 223.2 1848.9 226.2 1849.7 228.8 1851.4 231.0 1852.1 233.6 1852.8 235.8 1853.8 238.6 1854.6 240.8 1854.9 243.7 1855.7 245.7 1857.2 248.7 1857.8 250.3" stroke="#00c800" stroke-width="3.6"/>
<path d="M1407.5 55.3h.01M1408.6 56.9h.01M1411.9 57.9h.01M1417.2 58.1h.01M1420.9 59.1h.01M1423.3 59.1h.01M1425.0 60.2h.01M1428.6 59.4h.01M1431.5 61.6h.01M1435.8 61.3h.01M1439.0 63.5h.01M1441.4 65.0h.01M1444.1 63.5h.01M1447.4 67.0h.01M1451.6 67.8h.01M1453.0 69.0h.01M1456.3 69.1h.01M1458.6 69.3h.01M1461.2 69.4h.01M1463.1 69.9h.01M1465.9 71.8h.01M1468.6 73.3h.01M1470.7 74.0h.01M1472.4 73.2h.01M1474.8 73.7h.01M1483.3 75.3h.01M1490.6 75.2h.01M1495.3 77.9h.01M1496.9 77.7h.01M1494.4 79.2h.01M1493.9 81.4h.01M1491.6 82.2h.01M1489.0 83.9h.01M1485.0 86.2h.01M1483.1 85.3h.01M1486.1 90.8h.01M1486.6 92.2h.01M1488.0 96.0h.01M1489.4 97.2h.01M1492.1 102.6h.01M1494.0 105.8h.01M1498.6 106.8h.01M1501.4 106.5h.01M1503.1 107.1h.01M1505.3 107.1h.01M1509.3 107.6h.01M1511.2 107.9h.01M1512.4 110.0h.01M1515.7 109.0h.01M1524.8 110.1h.01M1530.1 112.0h.01M1533.8 112.5h.01M1541.9 114.3h.01M1544.1 114.4h.01M1547.1 116.5h.01M1555.6 117.0h.01M1558.7 116.0h.01M1559.8 117.9h.01M1558.4 117.1h.01M1553.4 117.8h.01M1550.4 117.5h.01M1548.9 119.3h.01M1546.5 119.6h.01M1541.9 119.2h.01M1540.9 120.7h.01M1545.7 120.7h.01M1548.1 121.8h.01M1552.2 120.6h.01M1553.9 120.7h.01M1557.1 122.7h.01M1560.1 121.0h.01M1562.9 122.4h.01M1566.7 121.4h.01M1572.4 122.9h.01M1574.2 123.9h.01M1578.0 122.4h.01M1585.3 122.7h.01M1586.2 123.0h.01M1591.3 124.7h.01M1595.3 123.9h.01M1597.2 126.4h.01M1600.9 126.1h.01M1609.7 127.6h.01M1612.1 127.5h.01M1615.1 126.9h.01M1618.0 127.2h.01M1620.1 128.6h.01M1624.3 128.1h.01M1626.4 127.2h.01M1629.5 128.5h.01M1633.5 128.8h.01M1635.6 130.4h.01M1638.9 130.6h.01M1641.9 129.4h.01M1644.8 130.2h.01M1647.4 130.2h.01M1649.2 129.4h.01M1652.6 131.4h.01M1657.1 130.6h.01M1659.5 130.0h.01M1667.3 132.9h.01M1671.0 131.3h.01M1672.4 133.1h.01M1677.6 133.5h.01M1680.5 134.1h.01M1681.0 134.4h.01M1685.6 135.5h.01M1691.7 134.9h.01M1693.5 135.4h.01M1695.8 135.5h.01M1698.6 135.4h.01M1705.5 136.5h.01M1707.8 139.2h.01M1712.2 137.9h.01M1714.0 140.2h.01M1717.8 139.8h.01M1719.2 140.6h.01M1723.0 141.9h.01M1724.1 143.7h.01M1727.6 143.1h.01M1726.9 145.9h.01M1727.9 148.9h.01M1728.7 151.3h.01M1734.9 152.6h.01M1740.9 153.6h.01M1743.8 155.3h.01M1744.8 156.8h.01M1749.2 156.7h.01M1751.5 158.9h.01M1756.7 158.7h.01M1758.4 159.7h.01M1765.7 162.4h.01M1767.6 162.4h.01M1774.5 164.2h.01M1775.7 165.7h.01M1779.4 166.7h.01M1782.0 169.9h.01M1786.9 172.4h.01M1789.4 173.3h.01M1791.7 173.1h.01M1794.8 174.5h.01M1796.4 175.5h.01M1798.8 177.3h.01M1801.8 180.2h.01M1805.1 181.5h.01M1806.7 182.6h.01M1809.5 184.5h.01M1810.9 183.6h.01M1817.1 187.0h.01M1818.5 189.9h.01M1823.9 192.1h.01M1827.3 193.1h.01M1829.5 198.6h.01M1832.8 198.3h.01M1837.7 201.7h.01M1837.1 203.7h.01M1841.0 207.4h.01M1842.8 209.9h.01M1843.0 213.6h.01M1844.8 215.3h.01M1845.6 218.6h.01M1846.8 221.3h.01M1847.9 225.7h.01M1850.4 229.9h.01M1854.9 243.8h.01M1856.3 246.2h.01M1858.1 251.8h.01" stroke="#00c800" stroke-width="4.7"/>
<path d="M1437.9 35.6h.01M1441.8 39.2h.01M1444.9 40.5h.01M1448.5 40.6h.01M1451.5 43.8h.01M1456.7 45.1h.01M1460.3 45.9h.01M1462.5 47.1h.01M1465.0 47.9h.01M1469.9 50.0h.01M1473.8 51.2h.01M1476.8 51.8h.01M1479.3 53.9h.01M1482.5 53.5h.01M1486.7 55.1h.01" stroke="#00ffff" stroke-width="4.7"/>
<path d="M1489.6 55.1 1492.5 56.3 1494.7 57.5 1498.1 58.5 1500.2 60.0 1503.6 60.5 1505.4 61.9 1508.6 62.4 1511.2 63.3 1513.2 64.4 1516.2 65.2 1518.8 65.6 1521.0 66.9 1523.1 68.3 1525.7 68.5 1529.0 70.2 1531.6 70.6 1534.2 71.5 1536.5 73.3 1538.5 73.5 1541.5 75.2 1544.1 76.3 1546.4 76.8 1548.8 77.5 1552.3 78.1 1554.3 79.2 1556.9 80.0 1559.7 80.6 1557.6 80.1 1555.1 79.4 1552.5 78.7 1549.6 77.1 1547.1 76.3 1545.3 76.1 1542.5 74.4 1539.8 73.9 1542.3 75.0 1545.6 75.6 1547.7 76.9 1550.1 77.1 1553.1 78.8 1554.8 79.4 1557.7 79.6 1560.0 80.6 1563.1 81.7 1564.9 82.7 1568.2 84.0 1570.6 85.0 1572.7 85.6 1575.4 86.6 1577.9 88.2 1580.5 89.1 1583.3 90.1 1585.6 91.8 1588.3 92.4 1590.8 93.6 1593.2 95.2 1595.6 96.4 1598.8 97.5 1600.6 98.2 1603.8 99.5 1605.4 101.5 1607.8 102.9 1610.1 104.8 1612.6 105.5 1615.4 107.2 1617.8 108.6 1620.7 109.9 1622.7 110.7 1625.3 112.2 1628.1 113.4 1630.7 113.7 1633.5 115.0 1636.3 116.3 1638.7 116.6 1641.2 117.8 1644.0 118.2 1647.3 118.0 1650.1 118.6 1652.4 119.0 1655.6 119.2 1657.8 119.4 1661.3 120.1 1663.8 120.3 1666.7 121.4 1670.4 122.1 1672.2 123.8 1673.7 125.9 1675.4 128.0 1676.3 130.6 1678.0 132.5 1681.3 133.7 1683.6 135.3 1686.6 137.0" stroke="#00ffff" stroke-width="3.6"/>
<path d="M1493.8 58.0h.01M1498.9 59.6h.01M1499.5 60.1h.01M1504.3 61.0h.01M1506.4 60.5h.01M1511.6 64.4h.01M1514.6 64.7h.01M1515.6 64.8h.01M1517.6 66.9h.01M1521.4 67.7h.01M1523.6 67.4h.01M1525.3 69.2h.01M1529.8 69.3h.01M1537.4 73.1h.01M1540.9 74.3h.01M1543.8 74.7h.01M1549.1 78.3h.01M1551.1 78.7h.01M1554.1 78.2h.01M1556.9 80.2h.01M1557.3 79.8h.01M1555.0 80.4h.01M1552.3 78.8h.01M1550.2 77.8h.01M1542.6 76.0h.01M1539.2 74.5h.01M1541.6 74.9h.01M1545.7 76.2h.01M1548.3 76.9h.01M1550.0 77.2h.01M1552.6 79.5h.01M1556.7 79.5h.01M1560.2 80.0h.01M1563.1 82.6h.01M1565.8 83.5h.01M1566.8 84.6h.01M1569.3 85.0h.01M1571.9 85.8h.01M1574.5 88.2h.01M1580.9 88.6h.01M1585.2 90.7h.01M1590.6 93.4h.01M1596.6 96.5h.01M1598.1 96.9h.01M1600.5 98.6h.01M1602.8 100.5h.01M1605.6 102.3h.01M1607.8 103.8h.01M1612.6 106.3h.01M1614.7 108.0h.01M1620.7 109.8h.01M1622.1 111.9h.01M1626.6 112.0h.01M1626.8 113.1h.01M1630.1 114.4h.01M1633.2 116.3h.01M1637.3 114.7h.01M1639.7 117.6h.01M1641.8 118.1h.01M1645.0 118.1h.01M1647.6 118.4h.01M1651.0 117.6h.01M1652.0 119.5h.01M1658.0 119.6h.01M1660.0 120.4h.01M1666.5 121.9h.01M1669.1 121.9h.01M1671.8 124.9h.01M1674.6 125.3h.01M1674.0 127.2h.01M1677.2 131.1h.01M1677.6 132.4h.01M1679.7 133.8h.01M1682.7 135.0h.01" stroke="#00ffff" stroke-width="4.7"/>
<path d="M1688.7 136.3h.01M1693.0 137.8h.01M1695.4 138.0h.01M1699.1 138.6h.01M1701.8 139.1h.01M1705.0 138.9h.01M1706.7 140.2h.01M1712.9 142.9h.01M1715.0 143.0h.01M1719.3 143.2h.01M1721.1 145.0h.01M1726.3 145.7h.01M1729.6 147.6h.01M1736.4 147.9h.01M1739.1 149.6h.01M1743.9 150.1h.01M1745.7 150.2h.01M1750.7 152.3h.01M1755.4 153.2h.01M1758.8 154.7h.01M1762.7 156.0h.01M1764.7 157.7h.01M1767.7 158.3h.01M1770.4 159.0h.01M1773.9 160.8h.01M1777.2 162.6h.01M1779.0 164.9h.01M1782.5 165.8h.01M1785.1 166.7h.01M1787.9 168.3h.01M1790.8 170.5h.01M1795.5 172.8h.01M1799.9 175.1h.01M1801.5 177.2h.01M1807.4 181.0h.01M1809.3 182.7h.01M1819.9 193.7h.01M1822.5 194.4h.01M1827.5 198.0h.01M1829.9 202.7h.01M1831.8 205.0h.01M1837.2 210.2h.01M1838.1 212.5h.01M1841.7 217.5h.01M1843.5 220.3h.01M1844.4 222.1h.01M1846.3 224.4h.01M1847.8 229.2h.01M1848.6 231.6h.01M1851.3 234.8h.01M1851.0 236.5h.01M1854.4 242.6h.01" stroke="#00ffff" stroke-width="4.7"/>
<path d="M1327.6 34.8 1330.8 35.8 1332.5 37.5 1334.8 38.4 1337.9 39.4 1340.0 39.7 1343.1 40.6 1345.5 41.6 1348.0 42.3 1351.3 43.1 1353.2 44.8 1353.5 47.0 1353.1 50.2 1351.1 52.9 1349.5 55.0 1347.4 56.7 1345.1 58.8 1344.2 61.2 1343.2 64.6 1345.3 66.3 1346.8 69.3 1349.2 70.6 1349.6 73.6 1351.1 75.9 1351.3 78.9 1353.6 80.5 1355.1 81.7 1357.7 83.1 1359.8 84.6 1361.7 85.2 1364.9 85.7 1367.3 86.1 1369.9 85.6 1372.5 85.4 1374.4 85.1 1376.8 85.7 1379.7 84.6 1381.9 85.9 1385.0 86.5 1386.9 86.2 1389.7 86.8 1387.5 88.1 1386.0 89.4 1383.5 91.2 1382.7 93.8 1381.9 97.2 1384.8 97.4 1387.5 97.8 1390.7 97.8 1393.5 98.6 1397.1 99.1 1400.2 100.7" stroke="#ff00ff" stroke-width="3.6"/>
<path d="M1327.7 35.4h.01M1330.9 37.0h.01M1332.2 36.6h.01M1335.8 38.8h.01M1340.2 40.6h.01M1342.2 41.6h.01M1346.7 41.0h.01M1349.5 43.4h.01M1351.8 44.7h.01M1354.6 46.5h.01M1353.5 49.5h.01M1350.2 52.8h.01M1348.8 54.8h.01M1347.1 57.5h.01M1343.9 62.2h.01M1344.1 63.9h.01M1344.8 65.4h.01M1346.0 68.3h.01M1350.6 71.2h.01M1350.5 72.8h.01M1351.2 77.1h.01M1352.9 80.2h.01M1356.0 81.9h.01M1356.5 84.2h.01M1362.3 84.4h.01M1364.3 84.7h.01M1367.3 86.2h.01M1371.1 84.6h.01M1375.6 86.0h.01M1378.2 84.9h.01M1380.2 83.8h.01M1381.1 84.7h.01M1385.0 85.1h.01M1388.3 86.1h.01M1390.4 87.7h.01M1386.1 90.7h.01M1385.1 90.6h.01M1383.2 94.1h.01M1381.8 96.6h.01M1384.9 97.5h.01M1387.0 98.0h.01M1392.2 98.7h.01M1393.9 98.3h.01M1401.2 100.2h.01" stroke="#ff00ff" stroke-width="4.7"/>
<path d="M1399.9 100.2h.01M1389.3 100.7h.01M1398.1 108.1h.01M1399.0 111.6h.01M1392.1 115.3h.01M1380.7 117.9h.01M1370.2 121.1h.01" stroke="#ff00ff" stroke-width="4.7"/>
<path d="M1365.1 123.3 1367.9 124.0 1370.6 125.4 1373.9 125.7 1375.9 126.8 1378.5 128.7 1381.1 129.0 1384.1 130.7 1386.0 132.3 1389.4 133.6 1391.4 135.7 1394.3 137.2 1397.0 137.8 1399.1 139.2 1401.6 140.9 1404.6 141.8 1406.4 142.5 1408.9 142.7 1411.7 144.2 1414.8 144.7 1416.9 145.0 1420.0 145.1 1422.7 145.0 1425.7 146.0 1428.7 145.8" stroke="#ff00ff" stroke-width="3.6"/>
<path d="M1366.0 124.6h.01M1369.8 125.0h.01M1373.0 125.5h.01M1378.0 127.1h.01M1381.6 128.8h.01M1383.9 130.8h.01M1392.2 135.1h.01M1395.3 137.9h.01M1395.6 137.5h.01M1399.3 138.8h.01M1400.7 140.1h.01M1403.0 141.6h.01M1407.9 141.7h.01M1412.1 144.3h.01M1417.5 144.8h.01M1420.0 144.0h.01M1423.4 146.5h.01" stroke="#ff00ff" stroke-width="4.7"/>
<path d="M1431.8 145.6h.01M1435.6 146.4h.01M1438.2 145.8h.01M1441.7 146.3h.01M1444.8 146.6h.01M1447.9 146.7h.01M1451.6 147.9h.01M1453.8 147.3h.01M1457.2 148.1h.01M1460.4 148.3h.01M1463.6 147.8h.01M1465.9 148.3h.01M1468.9 148.3h.01M1472.5 149.6h.01M1478.9 149.7h.01M1483.7 150.9h.01M1487.4 151.6h.01M1488.8 150.4h.01" stroke="#ff00ff" stroke-width="4.7"/>
<path d="M1489.2 151.1 1492.7 151.9 1495.2 152.4 1498.6 153.3 1501.6 154.5 1504.0 155.0 1506.9 156.3 1509.6 156.8 1511.7 158.3 1514.3 159.0 1516.5 160.7 1519.5 162.1 1522.1 163.3 1524.9 164.3 1527.4 164.6 1530.7 165.1 1533.6 165.6 1536.5 166.7 1538.8 166.9 1541.5 167.2 1543.8 168.2 1546.0 167.8 1549.5 169.4 1551.5 169.3 1554.9 170.2 1557.2 171.2 1559.6 171.7 1557.5 170.5 1554.8 170.0 1551.9 169.0 1548.2 167.9 1545.8 167.5 1542.9 166.6 1540.2 165.0 1542.9 165.6 1545.8 166.4 1549.4 167.1 1552.4 168.5 1554.9 169.0 1557.7 170.3 1561.0 171.1 1563.9 172.9 1566.1 173.3 1569.2 173.8 1572.4 174.6 1574.9 175.5 1577.4 177.1 1581.1 177.1 1583.1 178.2 1586.1 178.8 1589.1 179.9 1591.9 180.6 1594.1 182.1 1596.5 182.7 1599.3 182.9 1602.0 184.3 1604.3 184.5 1607.8 185.8 1609.9 185.8 1612.9 186.8 1615.1 187.6 1618.1 187.8 1620.9 188.3 1623.5 188.0 1626.4 188.9 1629.5 188.5 1631.8 189.2 1634.4 191.0 1636.3 191.8 1638.7 193.0 1641.3 193.5 1644.6 195.5 1647.3 196.7 1649.2 198.9 1651.9 199.8 1654.7 201.2 1657.5 201.5 1659.8 202.7" stroke="#ff00ff" stroke-width="3.6"/>
<path d="M1490.7 151.6h.01M1491.6 151.3h.01M1505.5 156.2h.01M1512.0 159.2h.01M1513.5 158.2h.01M1518.0 160.1h.01M1521.0 163.6h.01M1527.3 165.5h.01M1531.1 165.8h.01M1536.2 167.4h.01M1539.3 165.7h.01M1540.7 166.5h.01M1543.6 167.7h.01M1549.3 169.0h.01M1551.6 169.6h.01M1553.6 169.7h.01M1557.9 171.7h.01M1560.6 170.6h.01M1554.8 170.1h.01M1551.8 167.8h.01M1542.0 165.1h.01M1547.1 166.9h.01M1548.6 168.6h.01M1551.2 168.0h.01M1559.1 170.6h.01M1561.4 170.4h.01M1564.7 171.6h.01M1565.4 172.2h.01M1569.0 174.6h.01M1572.6 176.0h.01M1576.7 176.4h.01M1581.3 176.3h.01M1583.8 179.3h.01M1585.6 179.0h.01M1590.0 180.7h.01M1592.0 180.6h.01M1596.7 183.4h.01M1598.6 184.6h.01M1608.6 186.3h.01M1609.0 187.0h.01M1613.1 186.1h.01M1614.3 186.6h.01M1617.6 189.1h.01M1622.6 188.2h.01M1625.5 189.6h.01M1632.6 189.9h.01M1633.4 191.6h.01M1635.6 192.1h.01M1639.1 192.7h.01M1640.4 194.0h.01M1645.4 195.8h.01M1647.2 198.2h.01M1649.9 198.3h.01M1653.3 200.0h.01M1655.4 199.8h.01M1657.0 200.7h.01M1660.4 203.1h.01" stroke="#ff00ff" stroke-width="4.7"/>
<path d="M1667.7 210.0h.01M1670.9 208.4h.01M1676.0 205.9h.01M1679.0 205.8h.01M1681.5 205.6h.01M1683.2 204.0h.01M1685.8 203.1h.01" stroke="#ff00ff" stroke-width="4.7"/>
<path d="M1592.3 230.4h.01M1605.8 230.1h.01M1620.2 230.3h.01M1631.7 229.3h.01M1640.9 229.2h.01" stroke="#ff00ff" stroke-width="4.7"/>
<path d="M1631.8 219.4h.01M1637.8 217.8h.01M1651.6 214.6h.01" stroke="#ff00ff" stroke-width="4.7"/>
<path d="M1656.6 229.9h.01" stroke="#ff00ff" stroke-width="4.7"/>
<path d="M1666.4 233.2 1668.8 233.3 1671.4 232.7 1674.3 232.1 1673.0 234.5 1671.7 236.1 1670.4 238.7 1673.3 238.6 1676.1 237.9 1679.0 237.8 1681.8 237.4" stroke="#ff00ff" stroke-width="3.6"/>
<path d="M1667.9 232.8h.01M1672.3 231.7h.01M1675.0 233.3h.01M1672.2 233.3h.01M1670.6 237.5h.01M1669.0 239.7h.01M1673.1 238.1h.01M1678.8 237.4h.01" stroke="#ff00ff" stroke-width="4.7"/>
<path d="M1681.4 236.5h.01M1688.9 236.9h.01M1692.8 236.4h.01M1695.1 236.5h.01M1698.7 236.4h.01M1700.8 236.2h.01M1710.3 236.9h.01M1713.0 236.5h.01M1717.4 237.9h.01M1719.2 237.7h.01M1723.7 238.2h.01" stroke="#ff00ff" stroke-width="4.7"/>
<path d="M1723.3 237.0 1720.8 237.9 1718.2 238.7 1715.1 239.5 1712.4 240.1 1710.9 242.0 1708.3 243.8 1707.0 245.1 1704.6 246.9 1702.3 248.6 1704.8 249.4 1708.1 249.8 1710.5 250.6 1713.2 251.7 1715.4 252.6 1718.4 252.4 1721.4 253.5 1724.3 254.6 1726.7 254.3 1729.7 254.8 1733.0 254.5 1735.3 254.6 1738.5 255.0 1737.5 258.2 1736.6 260.6 1739.2 261.3 1742.6 262.8 1744.8 263.2 1747.2 263.8 1750.3 264.5 1753.0 265.3 1756.6 265.8 1759.2 265.9 1762.7 266.5 1765.4 266.1 1768.6 266.6 1771.6 266.5 1773.5 269.2 1776.2 270.8 1777.9 272.0 1781.0 272.4 1783.1 273.9 1785.9 274.3 1788.0 275.1 1790.8 275.4 1794.1 276.3 1796.4 276.3 1798.9 277.0 1802.1 278.0 1805.1 277.5 1807.3 278.4 1809.9 278.5 1811.9 278.5 1814.1 280.7 1815.3 283.2 1817.0 286.2 1818.6 289.1 1819.8 291.4 1820.9 293.9 1821.5 295.9 1823.0 298.7 1825.1 301.4 1826.1 304.2 1827.9 307.0 1830.3 309.9 1831.6 312.3 1831.8 315.3 1832.4 318.6 1832.5 321.6 1832.5 324.5 1833.1 328.3 1834.2 331.1 1835.0 333.7 1835.4 337.3 1835.2 339.8 1834.2 342.8 1833.4 345.7 1832.9 348.7 1832.9 352.2 1832.7 354.3 1832.2 357.0 1832.8 360.4 1832.6 356.9 1833.0 354.0 1832.8 352.0 1832.3 349.2 1832.4 346.1 1832.7 343.2 1832.7 340.7 1833.1 338.1 1832.3 335.8 1832.8 332.5 1832.2 329.6 1834.3 332.5 1835.7 335.7 1836.2 337.8 1836.0 340.8 1834.4 343.3 1833.5 345.4 1833.1 347.8 1831.8 351.4 1831.2 354.2 1830.7 356.6 1831.8 359.5 1832.1 362.0 1833.3 364.8 1835.8 366.8 1838.0 368.9 1839.7 370.3 1841.3 373.7 1842.8 376.5 1840.4 379.2 1838.5 380.6 1836.4 381.3 1833.4 382.6 1831.1 383.5 1828.6 383.7 1825.4 384.7 1822.9 385.3 1819.7 386.2 1816.8 386.9 1814.6 388.3 1811.4 388.7 1809.4 388.9 1806.5 389.6 1803.4 390.3 1800.6 390.8 1798.1 390.5" stroke="#ff00ff" stroke-width="3.6"/>
<path d="M1723.5 238.1h.01M1720.7 237.7h.01M1716.9 239.8h.01M1715.4 239.0h.01M1713.1 240.4h.01M1709.9 243.2h.01M1709.4 245.0h.01M1704.0 247.7h.01M1703.8 249.4h.01M1705.3 249.2h.01M1708.9 250.6h.01M1710.2 251.1h.01M1715.2 252.3h.01M1717.7 252.2h.01M1722.3 253.4h.01M1724.5 255.2h.01M1727.3 255.2h.01M1729.4 254.5h.01M1736.6 255.0h.01M1737.8 256.0h.01M1737.4 256.8h.01M1739.0 260.7h.01M1741.8 261.3h.01M1745.7 264.2h.01M1751.4 263.3h.01M1754.6 264.4h.01M1756.1 265.3h.01M1763.1 265.5h.01M1764.4 266.6h.01M1768.3 267.2h.01M1771.5 266.2h.01M1774.3 268.9h.01M1774.6 271.3h.01M1777.7 271.5h.01M1779.3 273.7h.01M1784.0 272.2h.01M1785.4 273.4h.01M1787.3 275.7h.01M1795.3 275.4h.01M1802.4 277.2h.01M1805.6 278.0h.01M1807.8 277.3h.01M1809.6 278.4h.01M1813.1 279.4h.01M1813.3 281.4h.01M1814.4 283.3h.01M1818.9 288.1h.01M1820.7 290.7h.01M1821.1 293.4h.01M1820.3 297.2h.01M1824.5 302.5h.01M1827.4 304.4h.01M1829.2 306.0h.01M1830.0 310.5h.01M1831.7 312.3h.01M1831.8 315.9h.01M1831.9 319.0h.01M1832.0 322.0h.01M1834.3 328.5h.01M1834.3 330.4h.01M1835.6 333.9h.01M1835.8 336.9h.01M1833.7 340.1h.01M1832.1 346.3h.01M1832.7 348.5h.01M1832.1 352.6h.01M1832.4 354.9h.01M1832.6 357.2h.01M1831.8 356.2h.01M1832.8 345.2h.01M1833.0 342.7h.01M1832.2 341.9h.01M1833.7 336.9h.01M1832.5 335.5h.01M1832.8 333.8h.01M1832.8 331.0h.01M1833.7 333.2h.01M1834.8 334.7h.01M1836.0 338.9h.01M1835.1 341.5h.01M1834.8 344.0h.01M1834.9 344.6h.01M1833.4 348.7h.01M1833.1 350.6h.01M1831.3 354.0h.01M1832.9 364.1h.01M1836.1 367.7h.01M1838.4 369.9h.01M1840.1 370.9h.01M1840.9 372.6h.01M1843.9 376.8h.01M1839.6 379.7h.01M1838.7 382.1h.01M1835.5 382.5h.01M1832.7 382.6h.01M1831.3 382.4h.01M1828.7 383.6h.01M1824.9 384.4h.01M1822.8 386.0h.01M1816.9 386.7h.01M1815.6 388.5h.01M1810.8 388.2h.01M1807.8 387.9h.01M1805.9 388.8h.01M1802.8 389.1h.01M1800.2 391.2h.01M1797.2 392.1h.01" stroke="#ff00ff" stroke-width="4.7"/>
<path d="M1797.6 390.3h.01M1788.0 394.4h.01M1776.9 395.7h.01M1769.4 396.9h.01M1759.7 398.3h.01" stroke="#ff00ff" stroke-width="4.7"/>
<path d="M1759.0 399.0 1756.7 399.9 1754.2 399.8 1751.5 400.4 1748.7 401.0 1746.4 401.6 1743.0 401.9 1741.0 402.8 1737.5 403.7 1735.3 404.9 1732.0 405.1 1729.9 406.0 1727.1 407.0 1723.7 407.5 1720.9 408.8 1718.1 409.9 1715.2 410.7 1712.8 412.6" stroke="#ff00ff" stroke-width="3.6"/>
<path d="M1758.4 399.7h.01M1755.8 399.6h.01M1754.8 400.1h.01M1751.0 399.4h.01M1746.8 400.6h.01M1743.3 401.2h.01M1741.6 404.1h.01M1735.7 404.7h.01M1731.5 405.6h.01M1730.1 404.8h.01M1725.9 407.5h.01M1723.6 408.6h.01M1720.7 408.7h.01M1717.3 408.9h.01" stroke="#ff00ff" stroke-width="4.7"/>
<path d="M1758.3 406.9h.01M1759.7 406.7h.01M1763.3 407.1h.01M1766.9 406.2h.01M1769.5 406.9h.01" stroke="#ff00ff" stroke-width="4.7"/>
<path d="M1768.9 406.4h.01M1785.4 404.1h.01" stroke="#ff00ff" stroke-width="4.7"/>
<path d="M1793.8 402.2 1796.6 402.4 1799.0 402.4 1801.6 402.3 1803.8 402.5 1807.1 403.1 1809.2 405.0 1812.3 406.6 1809.3 407.0 1807.5 407.0 1804.2 408.1 1802.0 408.6 1799.3 409.7 1796.8 410.5 1793.5 411.7 1790.7 411.9 1788.3 413.0 1785.6 414.8 1783.8 416.7 1781.6 418.3 1779.3 419.1 1777.3 420.8 1774.8 421.4 1771.3 423.0 1769.4 424.4 1766.5 425.8 1763.3 426.1 1761.0 426.8 1757.8 427.7 1754.9 428.7 1752.4 429.5 1750.5 430.1 1747.3 430.7 1744.8 431.2 1742.7 432.8 1739.9 433.9 1738.2 434.5 1735.7 435.6 1733.0 437.0 1730.9 438.4 1728.3 439.5 1725.3 440.2 1722.8 441.4 1720.0 442.4 1717.0 443.4 1714.7 444.9 1711.8 445.9 1709.0 446.8 1705.8 447.4 1702.9 448.6 1700.6 449.7 1697.2 450.5 1694.4 451.9" stroke="#ff00ff" stroke-width="3.6"/>
<path d="M1796.0 402.0h.01M1802.8 402.2h.01M1805.5 402.7h.01M1806.1 408.4h.01M1803.3 407.3h.01M1797.6 409.0h.01M1794.5 411.6h.01M1790.6 411.6h.01M1788.2 413.4h.01M1783.7 415.3h.01M1782.0 418.1h.01M1779.7 420.7h.01M1774.2 421.5h.01M1765.9 425.7h.01M1764.2 426.0h.01M1759.5 426.8h.01M1759.3 429.0h.01M1756.6 429.2h.01M1753.6 429.2h.01M1751.3 429.2h.01M1746.8 430.8h.01M1744.4 431.8h.01M1743.4 433.7h.01M1739.0 433.1h.01M1733.4 437.0h.01M1730.4 437.1h.01M1728.7 438.9h.01M1724.4 439.4h.01M1722.8 442.7h.01M1720.3 442.5h.01M1717.8 444.1h.01M1713.4 443.7h.01M1711.3 445.1h.01M1707.9 445.9h.01M1706.0 449.0h.01M1702.9 449.5h.01M1700.5 448.7h.01M1697.1 450.6h.01M1695.0 451.6h.01" stroke="#ff00ff" stroke-width="4.7"/>
<path d="M1694.2 452.3h.01M1691.4 453.2h.01M1689.2 453.4h.01M1684.6 454.0h.01M1679.3 455.4h.01M1676.6 456.5h.01M1672.7 456.8h.01M1666.3 458.2h.01M1662.1 458.8h.01M1658.8 458.8h.01M1657.2 460.4h.01M1653.1 460.5h.01M1650.6 460.9h.01M1646.0 461.2h.01M1643.5 461.6h.01M1639.9 462.9h.01M1636.6 463.4h.01M1634.0 464.8h.01" stroke="#ff00ff" stroke-width="4.7"/>
<path d="M1633.5 463.6 1631.1 464.8 1628.8 465.7 1625.9 467.1 1623.7 467.8 1621.1 467.8 1618.4 469.6 1616.5 472.1 1613.6 473.3 1610.7 475.3" stroke="#ff00ff" stroke-width="3.6"/>
<path d="M1632.3 464.2h.01M1630.7 464.9h.01M1628.5 466.7h.01M1620.9 468.3h.01M1617.6 470.2h.01M1615.9 471.7h.01M1612.8 474.3h.01M1611.7 474.9h.01" stroke="#ff00ff" stroke-width="4.7"/>
<path d="M1607.7 476.6h.01M1605.7 477.2h.01M1601.5 479.5h.01M1596.6 481.2h.01M1583.4 484.8h.01M1580.8 486.3h.01M1577.2 486.8h.01M1575.2 485.8h.01M1571.4 486.3h.01M1569.3 487.5h.01M1565.8 488.5h.01M1559.9 490.1h.01M1556.9 491.7h.01M1554.6 491.8h.01M1550.5 491.9h.01M1548.0 493.5h.01M1545.2 492.5h.01M1542.0 494.5h.01M1540.2 495.4h.01M1545.2 493.6h.01M1541.9 495.1h.01M1536.2 494.7h.01M1531.8 496.4h.01M1528.3 496.6h.01M1526.9 496.8h.01M1523.7 498.6h.01M1518.6 498.4h.01M1514.1 500.9h.01M1509.2 502.2h.01M1501.1 504.2h.01M1498.6 506.7h.01M1495.3 507.1h.01M1491.7 507.0h.01M1488.5 507.7h.01M1486.4 510.2h.01M1481.6 509.9h.01M1480.2 510.6h.01M1477.0 511.0h.01M1473.3 511.4h.01M1466.2 513.6h.01M1464.4 515.2h.01M1460.5 516.7h.01M1455.2 518.4h.01M1452.2 518.0h.01M1449.9 519.8h.01M1448.2 521.4h.01M1444.1 522.9h.01M1441.2 522.1h.01M1439.2 523.4h.01M1433.1 527.0h.01M1430.9 526.8h.01M1427.6 528.3h.01M1425.0 529.4h.01M1422.7 529.8h.01M1419.6 530.4h.01M1418.3 531.3h.01M1412.8 534.3h.01M1408.8 534.8h.01M1407.1 536.3h.01M1403.2 536.5h.01M1399.7 539.7h.01M1396.4 541.3h.01M1392.6 541.7h.01M1389.1 542.9h.01M1385.9 543.1h.01M1384.7 544.2h.01M1381.9 545.2h.01M1378.6 546.7h.01M1377.2 547.8h.01M1368.9 550.7h.01M1365.8 551.2h.01M1360.2 553.9h.01M1357.3 554.1h.01M1351.5 556.0h.01M1349.0 558.4h.01M1345.8 559.5h.01M1343.6 559.4h.01M1340.0 561.3h.01M1334.7 562.0h.01M1331.6 563.2h.01M1329.1 565.6h.01M1322.8 566.5h.01M1319.7 566.9h.01M1316.5 567.9h.01M1314.8 570.0h.01M1310.9 571.7h.01M1308.5 572.8h.01M1304.9 573.5h.01M1299.3 576.3h.01M1296.7 576.4h.01M1293.7 578.7h.01M1290.6 578.9h.01M1284.8 581.3h.01M1282.7 582.9h.01M1274.5 587.1h.01" stroke="#ff00ff" stroke-width="4.7"/>
<path d="M1259.5 591.8h.01M1259.2 598.0h.01" stroke="#ff00ff" stroke-width="4.7"/>
<path d="M1241.4 600.5h.01M1235.1 603.1h.01M1225.2 609.4h.01" stroke="#ff00ff" stroke-width="4.7"/>
<path d="M1371.6 84.6 1375.3 84.1 1378.1 83.9 1381.4 84.0 1384.1 85.5 1386.5 86.1 1389.5 87.5 1387.9 89.2 1385.6 90.9 1384.4 92.7 1383.4 96.4 1382.3 98.7 1380.0 98.4 1377.9 96.4" stroke="#ff00ff" stroke-width="3.6"/>
<path d="M1370.7 84.2h.01M1374.0 84.5h.01M1378.5 84.6h.01M1381.8 83.7h.01M1384.9 84.1h.01M1385.3 86.3h.01M1388.3 89.9h.01M1386.1 90.7h.01M1385.2 94.0h.01M1381.8 100.2h.01M1381.2 98.2h.01M1377.8 97.4h.01" stroke="#ff00ff" stroke-width="4.7"/>
<path d="M1392.1 98.2 1395.5 98.5 1397.9 97.9 1400.9 98.1 1398.8 99.7 1396.4 101.4" stroke="#ff00ff" stroke-width="3.6"/>
<path d="M1393.2 98.1h.01M1394.6 98.8h.01M1397.7 99.1h.01M1402.0 97.5h.01M1398.4 98.9h.01M1397.2 102.1h.01" stroke="#ff00ff" stroke-width="4.7"/>
<path d="M1166.6 56.8 1170.2 55.9 1172.0 55.1 1175.3 55.0 1177.7 54.1 1180.6 53.9 1183.8 53.8 1186.8 53.2 1188.9 52.7 1191.9 52.6 1195.3 52.5 1198.2 52.3 1201.3 52.1 1204.1 52.8 1207.1 52.6 1209.9 52.4 1212.2 52.6 1215.5 52.8 1218.7 52.7 1220.9 53.0 1224.0 53.1 1227.5 53.1 1229.7 52.6 1233.2 52.9 1236.0 53.7 1238.6 53.8 1241.6 54.0 1244.5 53.8 1246.9 53.7 1250.3 53.9 1252.8 54.3 1256.4 54.7 1258.6 54.5 1262.0 54.9" stroke="#ff0000" stroke-width="3.6"/>
<path d="M1166.5 57.0h.01M1169.5 56.4h.01M1175.1 55.6h.01M1177.8 53.0h.01M1179.8 53.1h.01M1182.5 53.7h.01M1185.7 53.8h.01M1189.1 52.9h.01M1191.2 53.3h.01M1194.5 52.7h.01M1199.3 52.6h.01M1200.7 52.4h.01M1203.1 53.5h.01M1206.7 52.4h.01M1212.3 53.1h.01M1216.5 53.4h.01M1227.2 53.0h.01M1231.7 53.3h.01M1238.2 54.4h.01M1240.7 53.0h.01M1244.4 53.6h.01M1248.1 53.6h.01M1249.2 53.5h.01M1253.6 55.1h.01M1261.3 53.2h.01" stroke="#ff0000" stroke-width="4.7"/>
<path d="M1262.0 55.2h.01M1265.3 54.8h.01M1268.1 54.5h.01M1270.8 54.9h.01M1273.4 54.1h.01M1276.5 55.3h.01M1278.9 55.4h.01M1281.5 56.4h.01M1285.7 54.9h.01M1288.3 56.4h.01M1291.9 56.1h.01M1294.3 55.8h.01M1296.6 57.9h.01M1300.5 56.5h.01M1302.2 57.0h.01M1311.4 57.5h.01M1314.7 58.5h.01M1320.1 57.6h.01M1323.8 58.3h.01M1325.8 57.6h.01M1328.5 58.5h.01M1332.7 58.3h.01M1335.1 57.8h.01" stroke="#ff0000" stroke-width="4.7"/>
<path d="M1166.5 51.4h.01M1178.8 50.7h.01" stroke="#ff0000" stroke-width="4.7"/>
<path d="M1273.9 45.3h.01M1281.1 45.1h.01M1289.6 43.4h.01M1303.1 42.2h.01" stroke="#ff0000" stroke-width="4.7"/>
<path d="M1326.9 48.2 1329.2 47.4 1332.1 46.2 1334.8 44.4 1338.6 45.3 1341.3 46.4 1339.6 48.2 1338.5 50.1 1336.7 52.1 1335.4 55.2 1333.1 58.1 1335.6 57.6 1338.0 58.4 1340.7 58.0 1343.2 58.9 1346.4 58.1 1348.9 58.3 1352.2 58.1 1355.5 57.1 1358.0 57.4 1361.4 58.0 1364.2 58.3 1366.8 58.0 1369.3 58.1" stroke="#ff0000" stroke-width="3.6"/>
<path d="M1327.6 49.3h.01M1328.4 48.1h.01M1332.0 44.7h.01M1337.2 44.4h.01M1342.3 46.1h.01M1337.5 52.7h.01M1334.3 56.5h.01M1336.8 58.1h.01M1339.2 59.0h.01M1342.6 58.8h.01M1345.7 58.0h.01M1350.3 57.3h.01M1353.0 57.3h.01M1354.4 58.1h.01M1357.9 57.6h.01M1362.1 57.2h.01M1363.3 59.1h.01" stroke="#ff0000" stroke-width="4.7"/>
<path d="M1362.7 64.2h.01M1362.0 65.0h.01M1359.9 67.9h.01M1356.7 68.8h.01" stroke="#ff0000" stroke-width="4.7"/>
<path d="M1333.3 66.6 1334.0 70.0 1335.5 72.9 1337.1 74.8 1338.8 76.9 1340.8 78.8 1339.3 80.5 1337.0 83.4 1334.7 85.1 1332.9 86.6 1331.4 89.3 1333.3 88.4 1336.0 87.6 1338.3 86.9 1341.0 85.8 1343.0 85.4 1344.7 86.8 1346.2 89.6 1347.4 90.8 1349.4 93.2 1351.7 95.8 1354.6 96.9 1357.2 96.5 1360.7 96.7 1363.8 97.2 1366.5 98.1 1369.3 98.4 1372.0 99.3 1373.3 101.6 1375.9 103.5 1372.7 104.8 1369.8 105.3 1367.2 106.2 1364.9 107.6 1361.4 109.8 1360.9 111.8 1359.5 114.0 1361.2 117.3 1362.5 119.1 1364.4 122.5 1365.8 124.4 1368.4 126.0 1370.9 126.8 1373.5 128.1 1375.9 130.0 1377.5 131.3 1379.8 133.8 1380.9 136.1 1382.2 137.6 1384.1 140.2 1385.9 141.5 1387.9 143.8 1389.7 145.6 1392.0 147.1 1393.7 148.6 1396.2 151.0 1398.1 151.7 1400.9 153.1 1403.8 154.2 1406.5 155.1 1408.5 156.4 1409.8 158.8 1412.8 159.9 1410.7 161.7 1408.5 163.1 1406.5 163.9 1403.8 164.9 1401.2 166.1 1398.1 166.5 1395.6 167.6 1393.0 168.7 1390.3 170.2 1391.0 173.9 1392.5 176.7 1394.6 176.3 1396.7 177.1 1399.6 176.9 1401.8 177.1 1405.1 177.7 1407.4 177.8 1410.1 177.8 1412.1 177.9 1415.4 178.4 1418.4 178.7 1421.3 180.3 1424.5 180.5 1422.0 182.4 1420.1 183.5 1418.5 185.7 1420.2 187.8 1422.8 191.0 1425.0 191.7 1427.9 193.4 1430.3 194.4 1433.5 195.2 1435.7 196.0 1438.3 196.5 1441.0 196.8 1443.8 197.8 1446.1 197.9 1449.3 198.9 1450.5 201.2 1452.8 202.4 1454.1 205.2 1452.2 206.8 1450.1 208.1 1448.5 209.9 1452.2 211.7 1455.3 213.1 1457.9 214.3 1460.4 216.3 1463.4 218.4 1465.6 220.1 1467.5 221.2 1469.0 223.4 1471.5 224.1 1474.3 224.1 1476.5 225.0 1479.0 225.2 1482.4 226.4 1484.9 227.1 1486.9 228.7 1489.8 228.9 1490.8 231.5 1492.2 233.1 1493.1 235.2 1495.4 236.3 1497.6 238.2 1500.1 239.1 1499.9 242.3 1499.8 245.9 1497.7 247.7 1495.8 249.8 1494.0 251.9 1492.0 253.2 1489.9 255.3 1486.5 257.0 1483.8 258.1 1481.8 260.1 1478.8 261.0 1475.4 261.8 1472.3 261.7 1469.3 263.0 1466.2 264.0 1463.3 265.5 1461.4 266.8 1459.9 269.1 1459.6 271.4 1459.3 274.4 1459.9 276.3 1462.1 278.4 1463.3 279.8 1465.5 281.4 1467.5 283.1 1469.3 284.5 1472.4 284.3 1475.1 285.2 1478.6 285.3 1481.8 286.4 1482.3 288.5 1483.9 289.8 1485.2 292.8 1486.9 294.6 1488.5 296.4 1489.2 298.5 1489.6 301.1 1489.3 303.1 1488.9 305.7 1488.6 308.9 1486.7 310.9 1485.3 313.8 1483.4 316.9 1481.4 317.7 1478.5 319.0 1476.1 319.9 1472.9 320.8 1471.1 322.4 1469.3 323.8 1467.6 324.8 1465.7 327.2 1464.9 329.1 1462.8 330.9 1465.5 333.0 1467.4 334.6 1469.7 335.6 1472.1 337.3 1475.2 338.6 1473.0 341.2 1471.1 342.8 1468.7 345.3 1466.4 345.9 1463.9 346.6 1460.6 347.9" stroke="#ff0000" stroke-width="3.6"/>
<path d="M1332.4 66.9h.01M1333.2 68.6h.01M1337.3 75.6h.01M1340.3 78.0h.01M1338.9 80.7h.01M1336.2 84.3h.01M1334.3 84.4h.01M1334.3 85.9h.01M1330.0 88.6h.01M1332.6 88.2h.01M1334.8 86.6h.01M1338.6 87.3h.01M1344.6 86.4h.01M1346.9 88.3h.01M1347.0 91.5h.01M1349.4 94.8h.01M1350.5 95.8h.01M1354.5 97.4h.01M1356.7 97.1h.01M1359.4 97.8h.01M1363.1 96.8h.01M1366.2 98.0h.01M1368.6 97.7h.01M1371.6 99.8h.01M1376.5 104.4h.01M1373.4 104.3h.01M1370.6 105.2h.01M1368.2 105.1h.01M1364.0 108.9h.01M1361.7 110.4h.01M1360.8 113.2h.01M1360.7 116.4h.01M1365.3 124.4h.01M1367.9 124.6h.01M1372.9 128.6h.01M1374.5 129.9h.01M1380.0 136.8h.01M1384.6 138.7h.01M1386.0 141.3h.01M1388.5 143.2h.01M1391.1 146.3h.01M1393.1 148.3h.01M1393.8 147.9h.01M1396.1 151.2h.01M1397.0 153.2h.01M1401.3 153.6h.01M1404.8 154.8h.01M1406.5 155.4h.01M1410.2 161.7h.01M1409.4 163.9h.01M1407.3 164.9h.01M1402.3 164.7h.01M1400.3 166.5h.01M1398.5 167.4h.01M1392.4 170.3h.01M1389.8 169.4h.01M1389.7 172.7h.01M1394.6 175.5h.01M1398.0 177.9h.01M1400.9 178.2h.01M1406.4 178.0h.01M1411.0 178.0h.01M1414.7 177.1h.01M1418.1 178.8h.01M1422.6 179.0h.01M1423.4 181.7h.01M1423.7 181.6h.01M1419.5 185.4h.01M1421.0 187.1h.01M1424.2 191.8h.01M1427.7 193.3h.01M1431.3 194.1h.01M1433.2 194.7h.01M1436.3 195.1h.01M1438.4 195.0h.01M1440.8 196.3h.01M1446.5 198.6h.01M1448.3 198.7h.01M1450.0 200.7h.01M1451.0 203.9h.01M1451.7 207.4h.01M1450.9 208.4h.01M1449.4 210.4h.01M1454.5 214.3h.01M1456.7 215.3h.01M1459.5 217.1h.01M1463.0 217.1h.01M1466.1 219.4h.01M1466.5 222.8h.01M1471.1 222.6h.01M1483.5 226.3h.01M1485.9 227.1h.01M1489.4 229.8h.01M1493.2 232.1h.01M1494.3 235.0h.01M1495.2 236.5h.01M1497.6 239.1h.01M1498.9 242.5h.01M1500.7 246.2h.01M1495.4 250.5h.01M1493.9 250.9h.01M1488.9 255.8h.01M1487.0 257.7h.01M1481.7 258.6h.01M1477.9 261.2h.01M1473.0 261.6h.01M1468.6 262.3h.01M1467.4 264.3h.01M1462.7 264.7h.01M1460.4 265.7h.01M1460.6 272.4h.01M1458.2 275.0h.01M1459.1 276.0h.01M1465.1 282.6h.01M1468.6 283.2h.01M1478.5 285.6h.01M1482.0 287.1h.01M1481.9 288.9h.01M1483.2 289.3h.01M1486.0 292.0h.01M1486.2 294.1h.01M1487.2 296.5h.01M1490.5 299.7h.01M1490.1 300.2h.01M1489.8 306.1h.01M1488.3 309.1h.01M1487.4 311.3h.01M1485.1 313.8h.01M1481.3 318.2h.01M1477.4 317.6h.01M1474.8 318.5h.01M1472.2 322.8h.01M1468.2 323.1h.01M1467.4 325.9h.01M1465.3 328.9h.01M1462.3 331.7h.01M1466.1 333.9h.01M1469.8 334.9h.01M1473.4 336.5h.01M1475.6 338.2h.01M1471.7 343.6h.01M1469.1 344.5h.01M1467.3 346.3h.01M1464.8 346.4h.01M1460.8 347.2h.01" stroke="#ff0000" stroke-width="4.7"/>
<path d="M1379.5 103.8h.01M1382.7 103.8h.01M1384.5 104.4h.01M1390.6 106.0h.01M1393.6 106.8h.01M1396.5 106.3h.01M1400.6 107.4h.01M1404.8 106.9h.01M1407.7 106.2h.01M1414.2 107.0h.01M1416.5 107.3h.01M1419.8 107.1h.01M1423.2 107.2h.01M1425.2 107.0h.01M1428.5 106.8h.01M1436.6 106.2h.01M1439.9 106.2h.01M1444.0 107.5h.01M1446.7 106.1h.01M1452.6 106.6h.01M1454.0 106.1h.01M1457.2 105.9h.01M1460.3 106.8h.01M1466.9 106.9h.01M1469.8 107.6h.01" stroke="#ff0000" stroke-width="4.7"/>
<path d="M1473.2 107.3 1476.1 108.6 1478.4 110.2 1481.1 110.9 1483.6 112.3 1485.0 113.8 1487.2 115.0 1489.2 116.4" stroke="#ff0000" stroke-width="3.6"/>
<path d="M1472.1 106.9h.01M1480.6 110.8h.01M1486.7 113.6h.01M1487.4 116.3h.01M1488.3 117.7h.01" stroke="#ff0000" stroke-width="4.7"/>
<path d="M1490.5 117.3h.01M1492.8 117.4h.01M1496.9 118.8h.01M1502.3 119.5h.01M1505.9 120.5h.01M1510.2 119.9h.01M1519.2 121.7h.01M1521.8 123.2h.01M1533.2 126.0h.01M1536.7 125.0h.01M1538.6 126.2h.01M1541.8 126.6h.01M1544.2 127.6h.01M1548.6 127.3h.01M1553.6 130.3h.01M1556.5 129.4h.01M1560.6 130.7h.01M1557.2 130.4h.01M1552.4 127.8h.01M1548.1 127.8h.01M1539.8 125.4h.01M1542.4 127.7h.01M1546.8 127.5h.01M1548.9 129.0h.01M1555.0 131.2h.01M1557.5 132.4h.01M1561.6 132.4h.01M1563.7 134.6h.01M1567.6 136.0h.01M1571.0 136.5h.01M1568.0 139.3h.01M1564.9 140.4h.01M1562.4 141.7h.01M1561.1 143.2h.01M1558.1 143.8h.01M1554.5 146.3h.01M1547.7 146.6h.01M1546.0 145.7h.01M1543.7 145.8h.01M1539.5 145.4h.01" stroke="#ff0000" stroke-width="4.7"/>
<path d="M1560.3 146.3h.01M1545.7 150.0h.01M1534.5 152.5h.01M1526.1 153.4h.01" stroke="#ff0000" stroke-width="4.7"/>
<path d="M1494.0 161.0h.01" stroke="#ff0000" stroke-width="4.7"/>
<path d="M1460.3 166.4h.01M1448.4 173.2h.01M1434.9 175.6h.01M1428.6 178.0h.01" stroke="#ff0000" stroke-width="4.7"/>
<path d="M1424.1 180.1 1427.2 180.5 1430.0 180.6 1432.9 180.9 1435.6 181.0 1437.7 180.9 1441.2 180.3 1443.1 181.2 1446.1 181.2 1449.2 181.3 1452.3 182.4 1455.3 182.3 1457.7 182.9 1459.8 184.0 1462.6 184.3 1465.5 184.7 1467.6 185.8 1470.0 187.2 1472.4 189.0 1470.8 191.6 1469.4 194.3 1466.9 195.6 1464.7 197.8 1462.8 199.3 1460.6 200.6 1459.5 201.9 1457.3 203.1 1455.6 204.5 1454.8 206.8 1453.2 209.3 1450.6 208.9 1447.4 209.6 1444.6 209.6 1447.3 211.8 1449.3 213.9 1451.4 214.9" stroke="#ff0000" stroke-width="3.6"/>
<path d="M1424.8 181.7h.01M1428.2 181.7h.01M1429.3 180.9h.01M1432.8 180.9h.01M1435.5 180.6h.01M1439.1 181.3h.01M1440.1 181.0h.01M1446.8 181.1h.01M1452.0 183.3h.01M1454.9 181.7h.01M1458.1 184.2h.01M1461.0 183.4h.01M1464.4 184.4h.01M1470.8 188.0h.01M1472.6 189.7h.01M1470.5 193.7h.01M1466.4 195.1h.01M1461.8 200.8h.01M1459.0 202.6h.01M1456.9 203.7h.01M1454.8 205.6h.01M1455.0 207.0h.01M1453.4 209.2h.01M1450.2 208.3h.01M1448.2 210.8h.01M1445.6 209.4h.01M1447.3 212.6h.01M1448.8 213.1h.01" stroke="#ff0000" stroke-width="4.7"/>
<path d="M1473.4 213.5 1475.9 213.5 1478.8 213.2 1481.4 213.1 1484.5 212.8 1487.0 213.3 1489.6 213.2 1487.1 213.9 1485.0 214.5 1482.7 215.0 1479.7 216.3 1477.3 217.6 1475.2 219.2 1473.0 221.5 1476.0 222.1 1478.7 223.9 1481.4 225.7 1483.9 227.1 1486.7 227.6 1489.4 229.7" stroke="#ff0000" stroke-width="3.6"/>
<path d="M1472.6 212.9h.01M1478.6 212.4h.01M1484.9 212.4h.01M1487.4 212.8h.01M1488.5 213.9h.01M1483.7 215.4h.01M1483.0 215.2h.01M1479.9 215.2h.01M1478.2 218.0h.01M1473.6 221.1h.01M1474.9 222.3h.01M1478.0 224.6h.01M1480.7 224.8h.01M1483.5 225.4h.01" stroke="#ff0000" stroke-width="4.7"/>
<path d="M1448.3 226.4h.01M1452.0 228.9h.01M1457.2 229.4h.01M1459.4 229.2h.01M1465.3 230.2h.01M1468.8 230.1h.01M1474.7 232.2h.01M1478.1 233.8h.01M1479.9 234.9h.01M1481.6 236.8h.01M1483.7 240.4h.01M1485.0 240.9h.01M1488.2 244.4h.01" stroke="#ff0000" stroke-width="4.7"/>
<path d="M1482.1 282.6h.01M1484.8 282.3h.01M1486.9 282.6h.01M1491.3 283.2h.01M1493.8 284.6h.01M1496.8 285.4h.01M1502.9 284.9h.01M1506.2 285.7h.01" stroke="#ff0000" stroke-width="4.7"/>
<path d="M1516.0 288.6 1518.4 289.5 1519.9 290.8 1517.7 292.0 1515.4 292.9 1512.4 293.8 1509.9 294.2 1508.0 296.4 1505.9 297.5 1503.9 298.5 1501.4 300.4 1504.7 301.2 1507.4 301.0 1510.3 301.3 1512.7 302.4 1515.9 302.5 1513.3 304.4 1511.1 305.4 1508.8 307.4 1506.1 308.7 1502.7 308.6 1499.7 309.1" stroke="#ff0000" stroke-width="3.6"/>
<path d="M1517.5 289.1h.01M1518.1 291.0h.01M1515.6 292.3h.01M1513.6 294.5h.01M1510.5 294.7h.01M1508.9 295.8h.01M1505.0 298.3h.01M1504.8 297.9h.01M1501.0 300.2h.01M1505.1 300.8h.01M1506.7 301.2h.01M1510.2 302.1h.01M1512.1 302.9h.01M1516.6 301.9h.01M1514.2 304.7h.01M1509.9 306.1h.01M1504.9 307.3h.01M1502.1 308.8h.01M1498.4 309.7h.01" stroke="#ff0000" stroke-width="4.7"/>
<path d="M1515.4 306.0h.01M1521.7 306.6h.01M1524.9 306.1h.01M1527.5 306.8h.01M1530.7 307.2h.01M1533.2 307.7h.01M1536.2 306.9h.01M1539.4 309.0h.01" stroke="#ff0000" stroke-width="4.7"/>
<path d="M1530.3 311.6 1531.9 314.1 1532.8 316.0 1533.8 318.8 1533.3 321.2 1532.0 322.5 1529.8 324.4 1527.0 325.9 1524.1 326.5" stroke="#ff0000" stroke-width="3.6"/>
<path d="M1531.0 310.6h.01M1532.0 317.4h.01M1530.1 324.4h.01M1526.9 325.3h.01M1524.8 325.6h.01" stroke="#ff0000" stroke-width="4.7"/>
<path d="M1326.5 41.8 1329.5 42.7 1332.4 44.1 1334.3 45.0 1337.6 45.4 1340.0 46.1 1337.6 47.2 1336.3 48.6 1334.1 50.2 1331.5 51.0 1329.2 50.2 1326.3 48.9 1328.8 50.3 1332.5 51.0 1334.6 52.5 1337.9 54.1" stroke="#ff0000" stroke-width="3.6"/>
<path d="M1329.9 42.0h.01M1332.1 43.9h.01M1334.5 43.9h.01M1337.1 44.5h.01M1339.2 46.7h.01M1338.0 48.2h.01M1334.5 49.8h.01M1332.7 52.0h.01M1329.4 49.6h.01M1327.5 48.3h.01M1332.0 50.3h.01M1335.6 53.8h.01M1337.4 53.4h.01" stroke="#ff0000" stroke-width="4.7"/>
<path d="M1332.6 66.8 1333.7 69.3 1334.0 73.0 1336.9 74.1 1339.8 74.8 1342.0 78.1 1342.3 80.2 1341.0 81.9 1338.6 84.3 1336.3 85.6 1333.5 87.8 1331.9 88.8 1334.7 87.5 1337.0 87.1 1340.8 84.9" stroke="#ff0000" stroke-width="3.6"/>
<path d="M1332.0 67.3h.01M1333.6 71.5h.01M1337.7 73.3h.01M1341.4 76.5h.01M1341.6 78.4h.01M1343.8 79.5h.01M1341.2 81.2h.01M1337.3 83.5h.01M1335.7 86.6h.01M1333.4 88.5h.01M1337.7 86.8h.01" stroke="#ff0000" stroke-width="4.7"/>
<path d="M1481.5 112.2 1483.6 113.0 1485.8 114.0 1488.0 115.2 1490.5 116.9 1487.6 116.5 1484.7 117.1 1482.3 116.5" stroke="#ff0000" stroke-width="3.6"/>
<path d="M1481.3 111.0h.01M1485.2 113.9h.01M1488.7 114.8h.01M1489.3 117.6h.01M1485.0 117.0h.01M1483.7 115.6h.01" stroke="#ff0000" stroke-width="4.7"/>
<path d="M1494.8 117.1 1497.8 116.9 1501.3 117.6 1503.5 117.9 1500.6 118.6 1497.6 119.4" stroke="#ff0000" stroke-width="3.6"/>
<path d="M1496.3 117.0h.01M1498.9 116.9h.01M1500.5 118.9h.01M1503.3 118.5h.01M1500.7 120.0h.01" stroke="#ff0000" stroke-width="4.7"/>
<path d="M1176.3 49.2h.01M1182.4 46.3h.01M1194.4 45.5h.01" stroke="#0000ff" stroke-width="4.7"/>
<path d="M1204.3 44.6h.01M1208.7 44.9h.01M1210.9 46.4h.01" stroke="#0000ff" stroke-width="4.7"/>
<path d="M1225.7 48.0h.01M1240.5 48.0h.01M1247.5 47.6h.01M1254.6 47.2h.01M1265.7 46.9h.01M1274.5 45.8h.01" stroke="#0000ff" stroke-width="4.7"/>
<path d="M1287.1 47.2h.01M1288.8 49.4h.01M1291.8 51.0h.01M1289.2 53.1h.01M1285.7 54.6h.01M1289.3 56.9h.01M1290.6 58.2h.01M1294.0 59.2h.01M1299.6 58.3h.01M1301.6 59.0h.01" stroke="#0000ff" stroke-width="4.7"/>
<path d="M1406.7 35.2 1408.6 35.3 1411.3 35.3 1414.6 36.3 1415.9 37.9 1418.6 39.5 1416.0 40.5 1414.6 41.7 1412.0 43.3 1409.4 43.6 1406.9 44.1 1404.3 44.8 1402.0 45.0 1399.1 45.6 1396.3 45.9 1393.6 46.7 1395.7 48.4 1397.7 50.7 1397.2 52.7 1395.0 54.2 1393.7 57.0 1391.6 57.9 1390.2 58.9" stroke="#0000ff" stroke-width="3.6"/>
<path d="M1406.0 34.4h.01M1408.9 35.7h.01M1412.5 35.8h.01M1414.1 35.2h.01M1418.1 39.1h.01M1415.3 41.1h.01M1413.8 41.5h.01M1413.6 42.2h.01M1408.3 44.6h.01M1404.5 45.0h.01M1401.3 45.6h.01M1400.7 46.8h.01M1396.0 46.2h.01M1394.9 47.1h.01M1395.6 49.5h.01M1397.0 50.9h.01M1395.7 53.4h.01M1394.6 54.6h.01M1393.6 56.4h.01M1389.8 59.5h.01" stroke="#0000ff" stroke-width="4.7"/>
<path d="M1390.6 59.3h.01M1397.4 60.0h.01" stroke="#0000ff" stroke-width="4.7"/>
<path d="M1422.9 46.7h.01M1425.4 48.7h.01M1426.6 49.2h.01M1428.8 50.8h.01M1426.8 53.8h.01" stroke="#0000ff" stroke-width="4.7"/>
<path d="M1370.9 48.1h.01" stroke="#0000ff" stroke-width="4.7"/>
<path d="M1369.2 66.7 1372.4 66.6 1374.6 66.7 1377.3 67.6 1379.6 67.5 1383.1 68.0 1386.4 68.5 1388.4 69.0 1391.9 68.7 1395.3 69.2 1398.4 69.3 1401.5 70.0 1404.0 69.8 1406.8 70.9 1409.8 72.8 1408.5 75.0 1406.4 77.6 1403.5 79.0 1399.6 80.4" stroke="#0000ff" stroke-width="3.6"/>
<path d="M1368.7 65.5h.01M1372.6 68.0h.01M1375.9 66.8h.01M1377.0 68.3h.01M1380.3 69.0h.01M1382.4 68.1h.01M1386.1 67.5h.01M1389.6 68.7h.01M1396.0 68.1h.01M1397.6 68.3h.01M1400.4 69.9h.01M1403.2 69.5h.01M1407.4 70.5h.01M1408.6 76.0h.01M1406.8 77.2h.01M1404.1 78.7h.01" stroke="#0000ff" stroke-width="4.7"/>
<path d="M1400.2 80.2h.01M1403.4 79.3h.01M1406.8 80.9h.01M1408.4 81.3h.01M1412.7 81.7h.01M1414.6 80.8h.01M1421.1 81.0h.01M1425.3 81.0h.01M1427.0 83.4h.01M1431.4 82.8h.01M1435.0 83.4h.01M1437.5 84.4h.01M1440.7 86.9h.01M1443.3 87.2h.01M1450.0 89.3h.01M1452.6 89.9h.01M1455.4 89.0h.01M1457.8 90.3h.01M1461.4 89.7h.01" stroke="#0000ff" stroke-width="4.7"/>
<path d="M1477.7 89.3 1479.8 89.2 1482.3 89.9 1485.3 89.9 1487.6 92.1 1489.6 94.5 1492.7 95.7 1495.2 96.2 1497.3 97.2 1500.4 97.7 1503.0 98.6 1505.7 98.3 1507.8 99.7 1509.9 99.5 1513.0 100.8 1515.2 101.6 1517.8 102.6 1520.9 103.4 1523.8 103.5 1527.1 104.3 1530.6 105.2 1533.0 106.3 1535.0 107.5 1538.0 108.4 1540.5 109.6 1542.9 110.9 1545.9 111.7 1548.9 113.4 1550.7 114.7 1553.9 116.4 1556.2 117.3" stroke="#0000ff" stroke-width="3.6"/>
<path d="M1478.5 89.1h.01M1479.4 89.0h.01M1483.1 90.1h.01M1484.4 90.3h.01M1487.0 92.0h.01M1488.4 93.4h.01M1491.3 95.0h.01M1495.8 95.4h.01M1496.8 98.0h.01M1500.0 98.0h.01M1504.3 98.5h.01M1507.1 99.6h.01M1512.8 100.0h.01M1515.1 100.6h.01M1521.4 102.9h.01M1523.8 102.9h.01M1527.4 105.5h.01M1530.3 105.8h.01M1534.0 106.3h.01M1538.4 108.1h.01M1539.6 110.0h.01M1542.9 110.7h.01M1544.5 113.4h.01M1549.4 113.2h.01M1551.8 115.0h.01M1554.8 116.7h.01" stroke="#0000ff" stroke-width="4.7"/>
<path d="M1369.9 72.0h.01M1368.1 75.2h.01M1365.7 77.9h.01M1367.9 79.6h.01M1365.8 89.3h.01M1366.5 94.4h.01M1372.1 96.4h.01M1365.4 101.1h.01M1364.5 103.5h.01" stroke="#0000ff" stroke-width="4.7"/>
<path d="M1363.2 104.1h.01M1375.3 104.3h.01M1387.2 105.9h.01M1393.2 106.1h.01M1404.3 107.8h.01" stroke="#0000ff" stroke-width="4.7"/>
<path d="M1445.7 104.0h.01M1448.5 103.3h.01M1458.2 104.5h.01M1460.1 105.1h.01M1463.9 107.4h.01M1456.5 108.2h.01M1453.6 108.9h.01M1451.8 111.0h.01" stroke="#0000ff" stroke-width="4.7"/>
<path d="M1450.8 110.0h.01M1439.0 115.2h.01" stroke="#0000ff" stroke-width="4.7"/>
<path d="M1424.8 119.4h.01M1421.6 120.8h.01M1419.1 123.1h.01M1417.8 123.8h.01M1414.9 126.5h.01" stroke="#0000ff" stroke-width="4.7"/>
<path d="M1415.1 125.1h.01M1405.5 128.6h.01M1397.8 131.2h.01" stroke="#0000ff" stroke-width="4.7"/>
<path d="M1408.1 136.5h.01M1405.4 138.8h.01M1403.3 139.6h.01M1401.0 140.4h.01M1397.3 142.9h.01M1395.6 143.7h.01M1392.6 145.5h.01M1390.9 146.9h.01M1388.0 146.9h.01M1385.0 150.0h.01M1381.4 150.8h.01M1380.6 153.0h.01" stroke="#0000ff" stroke-width="4.7"/>
<path d="M1379.7 152.4 1377.8 154.7 1376.6 156.8 1378.3 159.8 1380.3 162.6 1382.3 163.3 1384.9 163.5 1387.0 164.2 1390.0 165.1 1388.0 168.3 1387.2 171.4 1384.9 173.7 1383.1 175.1 1382.3 177.7 1379.3 179.4 1377.7 180.6 1379.5 182.1 1381.8 182.8 1383.9 184.2 1386.8 186.0 1388.7 187.0 1391.6 187.7 1394.4 188.4 1396.9 189.4 1398.5 190.5 1401.0 191.0 1403.6 192.0 1405.8 193.0 1408.7 194.1 1411.8 195.1 1414.2 197.0 1415.3 198.7 1417.5 200.9 1418.6 202.6 1419.2 205.6 1420.5 208.0 1421.2 211.1 1421.5 214.1 1422.5 216.7 1422.2 219.0 1423.4 222.0 1423.8 224.1 1424.6 227.0 1423.1 230.0 1422.4 233.8 1425.0 236.5 1428.0 237.3 1430.9 237.8 1433.7 238.2 1437.1 238.2 1438.4 239.5" stroke="#0000ff" stroke-width="3.6"/>
<path d="M1380.1 153.1h.01M1377.1 153.5h.01M1376.6 156.6h.01M1378.8 159.2h.01M1380.9 162.9h.01M1385.4 163.0h.01M1389.3 164.1h.01M1388.2 170.9h.01M1385.5 173.8h.01M1382.5 176.3h.01M1381.3 176.7h.01M1380.1 178.9h.01M1378.8 182.2h.01M1382.7 184.4h.01M1382.7 184.4h.01M1387.0 185.1h.01M1389.8 187.4h.01M1390.4 186.4h.01M1393.0 188.0h.01M1397.2 188.8h.01M1398.0 190.9h.01M1402.0 192.0h.01M1403.8 191.5h.01M1407.4 193.7h.01M1409.7 194.8h.01M1411.5 194.8h.01M1413.4 198.0h.01M1416.3 199.7h.01M1416.3 201.8h.01M1417.4 204.1h.01M1420.1 205.6h.01M1420.8 211.7h.01M1421.6 213.7h.01M1423.0 219.7h.01M1422.8 222.7h.01M1424.4 225.6h.01M1423.7 226.3h.01M1423.4 233.9h.01M1423.4 237.0h.01M1430.0 238.3h.01M1433.9 237.7h.01M1438.1 238.9h.01" stroke="#0000ff" stroke-width="4.7"/>
<path d="M1446.9 239.8h.01M1463.7 237.2h.01" stroke="#0000ff" stroke-width="4.7"/>
<path d="M1496.5 233.2h.01M1500.5 233.3h.01M1503.2 234.1h.01M1506.2 234.0h.01M1508.6 233.5h.01M1512.0 232.4h.01M1514.6 234.1h.01M1517.5 233.5h.01M1521.6 234.1h.01M1525.4 235.0h.01M1529.5 235.9h.01M1534.5 236.5h.01" stroke="#0000ff" stroke-width="4.7"/>
<path d="M1533.9 236.8h.01M1540.6 240.4h.01M1548.4 241.5h.01M1556.9 242.7h.01M1556.2 241.9h.01M1543.3 241.7h.01M1550.0 242.1h.01M1556.6 243.2h.01" stroke="#0000ff" stroke-width="4.7"/>
<path d="M1566.3 244.0 1569.1 244.1 1572.0 244.6 1574.5 245.2 1577.5 245.4 1580.5 245.1 1583.0 246.2 1585.5 247.3 1587.1 248.7 1589.9 249.8 1589.5 252.2 1589.2 256.0 1587.5 258.3 1585.5 261.5 1585.1 264.6 1583.6 267.6 1582.9 270.2 1581.6 273.6 1580.5 275.8 1580.0 278.4 1579.5 281.8 1578.3 283.7 1577.1 286.4 1576.2 290.0 1574.6 292.3 1572.6 294.2 1570.5 296.5 1568.8 298.2 1565.4 300.0 1562.6 301.6 1560.3 303.8 1557.9 305.2 1555.5 306.5 1553.1 307.1 1549.8 308.8 1547.9 309.7 1545.4 311.2 1542.9 311.9 1540.3 314.0 1542.2 313.1 1544.8 312.2 1547.8 311.3 1549.6 309.8 1552.6 308.9 1554.9 308.8 1557.9 307.1 1559.7 306.8 1557.4 307.5 1555.1 309.1 1551.5 311.2 1549.5 311.8 1546.5 314.1 1544.5 315.5 1541.9 316.9 1539.0 318.1 1537.0 319.6 1534.3 321.1 1532.0 322.8 1529.8 324.4 1526.6 325.5 1524.5 326.8 1521.8 329.3 1520.1 330.5 1517.2 331.7 1514.8 334.2 1512.1 335.5 1510.2 337.0 1507.3 338.8 1504.6 340.1 1502.3 341.4 1499.8 343.8 1497.9 345.0 1495.2 346.8 1493.4 348.7 1491.9 350.1 1489.3 352.2 1487.8 353.8 1485.3 355.7 1483.0 358.1 1481.6 359.5 1483.3 358.6 1486.3 356.2 1488.3 355.3 1490.6 353.7 1493.1 351.3 1494.5 350.4 1496.9 348.7 1499.9 346.5 1502.0 344.7 1504.0 342.9 1506.4 341.3 1508.4 339.5 1511.2 338.4 1512.8 336.4 1515.5 335.0 1517.6 332.9 1519.6 331.6 1522.4 329.7 1519.6 332.1 1517.7 333.6 1515.5 336.1 1513.4 337.3 1511.3 338.5 1508.4 340.4 1505.9 342.3 1503.6 343.2 1501.7 345.0 1498.4 346.7 1496.6 348.9 1493.4 349.9 1492.0 352.2 1489.1 354.3 1487.8 356.3 1485.8 358.9 1484.0 360.9 1482.3 362.1 1480.8 364.3 1479.3 367.0 1477.3 368.8 1474.8 370.7 1473.4 373.1 1470.8 374.4 1469.5 376.9 1466.6 378.7 1463.7 380.2 1461.2 381.1 1459.2 382.4 1457.3 384.7 1455.3 387.0 1452.7 389.2 1451.3 391.3 1449.0 392.9 1447.4 395.0 1446.1 397.1 1445.2 399.3 1443.6 400.9 1441.8 403.6 1440.5 406.3 1438.2 408.6 1436.5 409.8 1434.8 412.3 1433.1 414.6 1430.6 416.6 1428.9 418.7 1426.3 421.1 1424.8 423.4 1422.6 425.2 1421.1 427.6 1419.4 429.5 1417.1 431.4 1416.1 433.3 1414.2 435.6" stroke="#0000ff" stroke-width="3.6"/>
<path d="M1565.8 243.4h.01M1571.1 244.1h.01M1578.3 245.7h.01M1579.4 245.1h.01M1583.4 245.5h.01M1585.8 246.4h.01M1587.2 248.2h.01M1589.4 250.4h.01M1589.3 256.6h.01M1587.2 257.5h.01M1586.7 260.9h.01M1585.0 265.0h.01M1583.5 267.5h.01M1583.7 269.5h.01M1581.6 273.0h.01M1580.5 275.1h.01M1579.4 279.7h.01M1578.5 280.7h.01M1579.5 285.1h.01M1577.6 286.5h.01M1574.9 290.6h.01M1574.5 291.3h.01M1571.7 295.6h.01M1570.1 295.3h.01M1568.5 297.3h.01M1566.0 300.8h.01M1563.4 301.4h.01M1561.6 302.6h.01M1558.6 304.1h.01M1555.3 306.0h.01M1553.4 306.9h.01M1547.0 309.1h.01M1546.0 312.1h.01M1542.6 312.4h.01M1538.8 314.2h.01M1542.7 313.7h.01M1545.0 313.0h.01M1547.8 310.4h.01M1550.4 309.1h.01M1552.1 309.0h.01M1556.2 308.4h.01M1557.4 308.6h.01M1559.9 305.9h.01M1556.6 306.8h.01M1554.7 309.2h.01M1549.5 313.3h.01M1546.4 312.9h.01M1543.4 315.7h.01M1542.8 315.7h.01M1539.5 316.9h.01M1536.2 319.8h.01M1531.2 322.5h.01M1525.9 324.4h.01M1525.6 328.4h.01M1521.3 328.6h.01M1519.4 331.2h.01M1517.2 331.4h.01M1515.5 334.4h.01M1513.3 334.1h.01M1508.9 337.5h.01M1507.7 337.5h.01M1505.6 340.6h.01M1500.3 343.3h.01M1495.6 347.6h.01M1493.4 347.5h.01M1489.4 351.0h.01M1487.1 352.8h.01M1485.1 355.7h.01M1484.7 358.5h.01M1481.3 360.6h.01M1484.7 359.5h.01M1485.4 357.9h.01M1488.8 355.8h.01M1490.4 352.9h.01M1495.4 348.7h.01M1497.1 349.4h.01M1503.7 343.6h.01M1506.9 342.9h.01M1507.6 340.1h.01M1511.8 337.9h.01M1513.5 336.9h.01M1515.5 334.3h.01M1517.4 333.4h.01M1519.5 331.2h.01M1518.9 333.7h.01M1516.7 336.2h.01M1509.9 338.7h.01M1507.9 340.8h.01M1506.6 340.5h.01M1503.0 342.9h.01M1497.6 348.0h.01M1493.7 350.2h.01M1492.4 351.4h.01M1489.5 353.5h.01M1487.9 357.7h.01M1483.4 361.8h.01M1479.5 363.6h.01M1478.6 367.0h.01M1477.8 368.6h.01M1474.3 370.0h.01M1473.4 373.8h.01M1470.4 374.8h.01M1467.9 376.8h.01M1467.1 378.3h.01M1464.0 378.7h.01M1462.5 382.4h.01M1457.3 384.9h.01M1454.5 387.9h.01M1454.0 388.6h.01M1451.3 391.5h.01M1448.7 391.9h.01M1446.9 395.9h.01M1446.9 396.5h.01M1444.6 400.2h.01M1441.2 404.8h.01M1440.9 406.1h.01M1438.2 407.9h.01M1435.5 409.7h.01M1433.8 411.7h.01M1432.8 414.1h.01M1431.8 416.6h.01M1429.6 419.9h.01M1427.5 420.7h.01M1423.9 423.9h.01M1422.0 425.4h.01M1421.7 426.2h.01M1420.2 430.3h.01M1416.9 431.4h.01M1415.3 433.2h.01" stroke="#0000ff" stroke-width="4.7"/>
<path d="M1642.2 267.1 1643.8 264.4 1645.0 261.9 1647.3 258.5 1648.8 256.7 1649.5 253.7 1651.3 251.8 1653.4 250.5 1655.6 248.7 1657.4 247.3 1660.1 245.5 1663.6 244.1 1665.6 242.9 1668.4 240.5 1671.0 239.5 1674.1 237.5 1675.7 235.8 1677.6 233.7 1678.7 231.5 1679.9 229.7 1681.8 226.5 1683.1 225.2 1684.6 222.1 1686.8 220.1 1688.1 218.3 1689.5 216.6 1691.8 215.1 1694.1 215.7 1696.2 216.5 1694.9 214.0 1692.0 212.9 1690.0 211.4 1686.3 210.0 1688.1 208.7 1690.2 206.8 1692.4 206.3 1695.1 204.9 1697.8 203.5" stroke="#0000ff" stroke-width="3.6"/>
<path d="M1642.3 265.7h.01M1644.8 264.2h.01M1644.6 262.7h.01M1647.5 255.9h.01M1649.4 254.2h.01M1652.8 252.5h.01M1654.7 248.3h.01M1656.8 247.0h.01M1661.2 245.8h.01M1663.6 244.7h.01M1665.6 242.6h.01M1667.8 240.7h.01M1672.1 238.6h.01M1676.0 235.4h.01M1676.8 232.9h.01M1677.6 230.1h.01M1681.2 226.8h.01M1684.2 222.4h.01M1687.3 220.7h.01M1689.1 219.5h.01M1690.5 217.9h.01M1696.8 216.8h.01M1693.4 213.1h.01M1691.5 210.8h.01M1687.4 209.7h.01M1689.3 209.4h.01M1689.9 207.3h.01M1693.2 205.5h.01M1695.7 203.9h.01M1697.6 204.4h.01" stroke="#0000ff" stroke-width="4.7"/>
<path d="M1642.8 266.6 1640.8 268.4 1638.0 269.4 1635.6 270.7 1633.5 272.2 1631.0 273.6 1628.5 275.3 1626.0 276.9 1623.4 278.2 1621.4 280.0 1619.4 281.5 1617.4 283.1 1615.1 284.7 1612.7 287.1 1610.9 287.7 1608.7 289.1 1605.6 290.5 1603.2 291.9 1600.8 293.1 1598.7 294.7 1596.3 296.6 1593.7 297.8 1590.6 299.5 1588.8 300.3 1585.9 302.3 1583.2 302.8 1581.1 304.3" stroke="#0000ff" stroke-width="3.6"/>
<path d="M1639.4 268.4h.01M1637.7 270.8h.01M1634.1 273.0h.01M1632.1 274.3h.01M1621.2 279.2h.01M1618.1 282.7h.01M1617.4 284.2h.01M1616.1 283.8h.01M1613.1 286.8h.01M1607.6 288.8h.01M1606.7 290.9h.01M1604.2 291.7h.01M1599.9 294.0h.01M1597.1 297.6h.01M1592.4 297.9h.01M1590.4 298.7h.01M1589.5 300.7h.01M1586.3 302.6h.01M1583.9 302.7h.01M1580.6 305.1h.01" stroke="#0000ff" stroke-width="4.7"/>
<path d="M1581.5 303.7h.01M1577.9 305.9h.01M1575.2 307.6h.01M1573.1 309.9h.01M1570.3 312.7h.01M1564.3 315.0h.01M1563.1 316.2h.01M1559.7 317.6h.01M1554.2 320.1h.01M1552.2 322.6h.01M1545.1 324.6h.01M1543.1 325.8h.01M1542.4 325.0h.01M1545.4 324.4h.01M1548.9 324.0h.01M1552.1 323.1h.01M1557.5 320.3h.01M1560.9 319.4h.01M1554.9 322.7h.01M1552.6 321.8h.01M1548.7 323.9h.01M1544.2 326.7h.01M1541.1 327.3h.01M1537.1 328.1h.01M1533.2 330.2h.01M1530.6 330.5h.01" stroke="#0000ff" stroke-width="4.7"/>
<path d="M1539.9 164.4h.01M1547.7 166.9h.01M1554.4 165.5h.01M1556.6 165.8h.01M1560.6 166.4h.01M1562.8 167.4h.01M1568.3 167.3h.01M1571.2 166.4h.01M1575.9 166.4h.01M1580.3 166.0h.01M1583.7 165.2h.01M1587.8 165.4h.01M1590.6 164.4h.01M1593.0 164.9h.01M1596.2 164.9h.01M1600.9 163.7h.01M1604.0 163.3h.01M1609.2 163.2h.01" stroke="#0000ff" stroke-width="4.7"/>
<path d="M1609.1 163.4 1612.1 162.8 1614.7 163.0 1617.2 162.2 1619.9 162.9 1622.7 164.0 1625.2 165.7 1628.0 165.3 1631.2 165.6 1634.2 165.3 1636.5 165.5 1639.2 165.8 1637.1 167.4 1633.9 168.4 1631.1 169.3 1628.5 170.1 1626.7 171.6 1623.8 172.8 1620.9 173.2 1618.9 174.1 1616.2 175.4 1613.3 176.2 1610.9 177.5 1608.9 178.9 1606.9 180.4 1605.4 181.7 1608.4 183.0 1610.7 185.0 1613.5 185.2 1616.8 186.2 1619.3 187.6 1616.8 190.1 1614.8 192.9 1613.5 193.7 1611.2 194.7 1614.1 195.6 1616.5 195.7 1619.2 196.4 1622.1 196.3 1625.2 196.8 1627.8 197.2 1630.8 198.5 1633.9 198.7 1631.9 200.7 1630.4 203.3 1629.7 204.6 1632.9 204.9 1635.6 205.1 1638.8 204.6 1641.5 205.0 1644.8 205.4 1647.4 205.1 1650.9 205.6 1654.3 206.4 1657.0 206.1 1659.6 205.6 1661.5 205.2 1660.2 206.1 1657.5 208.4" stroke="#0000ff" stroke-width="3.6"/>
<path d="M1607.9 162.9h.01M1611.3 162.1h.01M1615.4 161.4h.01M1618.4 163.0h.01M1620.1 162.5h.01M1623.6 165.4h.01M1626.9 165.0h.01M1630.0 166.6h.01M1635.1 164.5h.01M1635.7 167.0h.01M1636.5 168.3h.01M1633.9 168.5h.01M1632.3 168.3h.01M1630.0 169.2h.01M1626.2 171.6h.01M1620.2 174.6h.01M1619.5 173.4h.01M1616.6 175.2h.01M1610.1 176.4h.01M1608.2 178.0h.01M1607.8 181.0h.01M1604.6 180.9h.01M1607.7 183.6h.01M1610.4 184.7h.01M1614.9 186.5h.01M1615.5 186.3h.01M1618.9 187.5h.01M1616.1 189.1h.01M1614.4 192.5h.01M1612.2 194.0h.01M1610.5 195.3h.01M1613.2 196.1h.01M1615.9 195.6h.01M1619.2 197.0h.01M1622.5 195.2h.01M1626.3 197.9h.01M1629.3 198.7h.01M1631.6 197.5h.01M1633.4 198.1h.01M1633.4 201.8h.01M1631.6 203.4h.01M1630.2 205.8h.01M1633.5 204.6h.01M1636.5 205.7h.01M1638.6 204.0h.01M1640.6 206.2h.01M1648.8 205.3h.01M1651.8 204.4h.01M1653.3 206.0h.01M1655.7 204.5h.01M1657.9 204.5h.01M1659.3 205.6h.01M1657.2 207.2h.01" stroke="#0000ff" stroke-width="4.7"/>
<path d="M1559.9 140.8h.01M1556.4 139.6h.01M1554.6 141.3h.01M1548.5 142.2h.01M1541.8 144.6h.01M1538.2 146.2h.01M1534.4 147.5h.01M1529.4 150.2h.01M1525.9 151.5h.01M1523.7 152.5h.01M1516.0 154.7h.01" stroke="#0000ff" stroke-width="4.7"/>
<path d="M1516.4 153.7 1513.6 155.9 1510.4 156.7 1507.4 158.4 1507.7 160.6 1507.5 163.6 1509.9 163.9 1512.5 163.7 1515.2 163.6 1517.5 163.9 1520.5 164.4 1523.9 165.1 1527.5 165.5 1530.5 165.8 1533.0 166.3 1535.1 166.9 1537.7 167.7 1540.8 168.6 1542.8 168.5 1545.6 169.3 1548.4 170.0 1550.1 170.4 1553.3 169.6 1556.7 169.3 1559.9 169.1" stroke="#0000ff" stroke-width="3.6"/>
<path d="M1515.3 154.2h.01M1509.5 155.9h.01M1509.0 159.0h.01M1509.1 159.5h.01M1507.0 164.1h.01M1513.9 163.5h.01M1516.2 164.7h.01M1517.5 163.4h.01M1522.2 166.0h.01M1525.9 165.5h.01M1533.1 166.8h.01M1535.6 167.1h.01M1539.0 167.4h.01M1541.5 167.8h.01M1541.6 167.7h.01M1545.4 167.9h.01M1550.9 171.2h.01M1553.5 171.0h.01M1559.5 170.4h.01" stroke="#0000ff" stroke-width="4.7"/>
<path d="M1539.5 110.0 1542.8 111.7 1545.0 114.3 1548.0 115.1 1551.5 114.4 1554.6 113.9 1557.0 113.5 1560.1 112.9 1559.9 114.4 1560.0 117.7 1560.1 119.3" stroke="#0000ff" stroke-width="3.6"/>
<path d="M1538.8 110.7h.01M1543.6 113.0h.01M1545.7 115.0h.01M1549.3 115.6h.01M1550.3 115.4h.01M1556.3 113.9h.01M1560.0 115.1h.01M1560.1 117.4h.01" stroke="#0000ff" stroke-width="4.7"/>
<path d="M1556.0 116.7h.01M1557.8 117.4h.01M1561.6 116.9h.01M1563.4 116.4h.01M1568.4 115.2h.01M1572.0 115.9h.01M1575.9 114.7h.01M1578.2 115.2h.01M1580.1 114.8h.01M1584.5 113.7h.01M1585.7 113.6h.01M1589.2 114.7h.01M1591.4 113.7h.01M1595.4 114.1h.01M1597.7 115.2h.01M1600.4 115.1h.01M1604.0 115.7h.01M1606.3 115.0h.01M1608.6 115.4h.01M1613.3 116.8h.01" stroke="#0000ff" stroke-width="4.7"/>
<path d="M1616.9 109.0 1619.9 110.1 1621.8 109.9 1624.7 110.5 1627.7 110.7 1630.5 110.6 1633.3 112.0 1635.7 111.8 1639.1 113.3 1641.1 113.5 1639.4 115.0 1637.5 116.5 1635.8 117.2 1633.1 118.0 1630.0 119.3 1627.8 120.2 1625.8 120.9 1622.8 119.2 1620.1 118.1 1617.7 117.8 1614.7 117.0" stroke="#0000ff" stroke-width="3.6"/>
<path d="M1618.5 108.9h.01M1620.9 109.6h.01M1623.4 111.2h.01M1625.3 109.1h.01M1627.1 111.1h.01M1630.6 111.9h.01M1632.6 110.5h.01M1636.5 111.0h.01M1640.0 112.5h.01M1638.8 114.2h.01M1634.9 117.6h.01M1633.4 119.2h.01M1631.6 119.4h.01M1629.1 120.1h.01M1624.2 119.4h.01M1620.0 117.7h.01M1617.4 117.5h.01M1614.3 115.8h.01" stroke="#0000ff" stroke-width="4.7"/>
<path d="M1628.6 120.8h.01M1619.7 123.7h.01M1617.9 123.0h.01M1613.2 123.5h.01M1610.7 126.0h.01M1607.5 125.1h.01M1600.0 127.9h.01M1595.6 129.5h.01M1591.9 129.4h.01M1589.5 130.6h.01M1587.4 130.8h.01M1583.2 132.8h.01M1581.1 133.6h.01" stroke="#0000ff" stroke-width="4.7"/>
<path d="M1390.3 45.4 1392.9 44.7 1395.9 44.3 1397.8 44.1 1400.3 43.9 1398.1 45.6 1396.8 48.1 1394.4 50.5 1395.9 52.4 1397.9 55.4 1395.5 55.3 1393.0 56.0 1390.2 56.9 1393.6 58.1 1395.8 59.5" stroke="#0000ff" stroke-width="3.6"/>
<path d="M1391.5 44.3h.01M1392.4 44.4h.01M1394.9 43.7h.01M1397.8 44.5h.01M1400.3 43.0h.01M1396.0 47.1h.01M1393.8 50.6h.01M1396.6 52.7h.01M1396.6 55.0h.01M1393.6 55.2h.01M1390.4 56.1h.01M1392.1 58.1h.01M1396.2 60.1h.01" stroke="#0000ff" stroke-width="4.7"/>
<path d="M1414.8 126.9 1417.1 125.6 1419.5 123.9 1421.9 121.7 1425.0 119.7 1427.1 118.7 1429.7 116.3" stroke="#0000ff" stroke-width="3.6"/>
<path d="M1415.4 126.7h.01M1416.4 125.8h.01M1420.2 122.9h.01M1422.9 122.6h.01M1423.7 119.2h.01M1429.1 116.5h.01" stroke="#0000ff" stroke-width="4.7"/>
<path d="M1444.6 104.6 1447.5 103.9 1450.0 104.0 1452.0 103.2 1454.8 102.8 1457.5 102.8" stroke="#0000ff" stroke-width="3.6"/>
<path d="M1445.7 103.5h.01M1448.2 102.7h.01M1451.1 104.2h.01M1454.4 104.3h.01M1456.9 104.1h.01" stroke="#0000ff" stroke-width="4.7"/>
<path d="M1446.0 111.8 1448.5 111.6 1452.0 110.9 1454.4 109.5 1457.5 109.5 1460.2 109.0 1464.0 107.9" stroke="#0000ff" stroke-width="3.6"/>
<path d="M1446.3 112.0h.01M1448.7 110.1h.01M1455.7 109.9h.01M1457.4 110.2h.01M1459.7 108.3h.01M1463.1 107.4h.01" stroke="#0000ff" stroke-width="4.7"/>
</g>
<polygon points="1481.4,257.7 1484.0,265.3 1492.1,265.4 1485.7,270.3 1488.0,278.0 1481.4,273.4 1474.8,278.0 1477.1,270.3 1470.7,265.4 1478.8,265.3" fill="#ff0000" stroke="#000" stroke-width="2.5" stroke-linejoin="miter"/>
<polygon points="1481.4,304.5 1484.0,312.1 1492.1,312.2 1485.7,317.1 1488.0,324.8 1481.4,320.2 1474.8,324.8 1477.1,317.1 1470.7,312.2 1478.8,312.1" fill="#ff0000" stroke="#000" stroke-width="2.5" stroke-linejoin="miter"/>
<polygon points="1576.6,275.0 1579.2,282.6 1587.3,282.7 1580.9,287.6 1583.2,295.3 1576.6,290.7 1570.0,295.3 1572.3,287.6 1565.9,282.7 1574.0,282.6" fill="#0000ff" stroke="#000" stroke-width="2.5" stroke-linejoin="miter"/>
<polygon points="1642.6,255.7 1645.2,263.3 1653.3,263.4 1646.9,268.3 1649.2,276.0 1642.6,271.4 1636.0,276.0 1638.3,268.3 1631.9,263.4 1640.0,263.3" fill="#0000ff" stroke="#000" stroke-width="2.5" stroke-linejoin="miter"/>
<polygon points="1837.7,201.8 1840.3,209.4 1848.4,209.5 1842.0,214.4 1844.3,222.1 1837.7,217.5 1831.1,222.1 1833.4,214.4 1827.0,209.5 1835.1,209.4" fill="#00c400" stroke="#000" stroke-width="2.5" stroke-linejoin="miter"/>
<polygon points="1852.0,226.2 1854.6,233.8 1862.7,233.9 1856.3,238.8 1858.6,246.5 1852.0,241.9 1845.4,246.5 1847.7,238.8 1841.3,233.9 1849.4,233.8" fill="#00ffff" stroke="#000" stroke-width="2.5" stroke-linejoin="miter"/>
<polygon points="1862.0,246.6 1864.6,254.2 1872.7,254.3 1866.3,259.2 1868.6,266.9 1862.0,262.3 1855.4,266.9 1857.7,259.2 1851.3,254.3 1859.4,254.2" fill="#000000" stroke="#000" stroke-width="2.5" stroke-linejoin="miter"/>
<polygon points="1831.6,301.4 1834.2,309.0 1842.3,309.1 1835.9,314.0 1838.2,321.7 1831.6,317.1 1825.0,321.7 1827.3,314.0 1820.9,309.1 1829.0,309.0" fill="#ff00ff" stroke="#000" stroke-width="2.5" stroke-linejoin="miter"/>
<rect x="1167.5" y="35.5" width="778.0999999999999" height="605.8" fill="none" stroke="#4a4a4a" stroke-width="1.4"/>
<line x1="1278.66" y1="641.30" x2="1278.66" y2="633.30" stroke="#4a4a4a" stroke-width="1.3" />
<line x1="1278.66" y1="35.50" x2="1278.66" y2="43.50" stroke="#4a4a4a" stroke-width="1.3" />
<line x1="1389.81" y1="641.30" x2="1389.81" y2="633.30" stroke="#4a4a4a" stroke-width="1.3" />
<line x1="1389.81" y1="35.50" x2="1389.81" y2="43.50" stroke="#4a4a4a" stroke-width="1.3" />
<line x1="1500.97" y1="641.30" x2="1500.97" y2="633.30" stroke="#4a4a4a" stroke-width="1.3" />
<line x1="1500.97" y1="35.50" x2="1500.97" y2="43.50" stroke="#4a4a4a" stroke-width="1.3" />
<line x1="1612.13" y1="641.30" x2="1612.13" y2="633.30" stroke="#4a4a4a" stroke-width="1.3" />
<line x1="1612.13" y1="35.50" x2="1612.13" y2="43.50" stroke="#4a4a4a" stroke-width="1.3" />
<line x1="1723.29" y1="641.30" x2="1723.29" y2="633.30" stroke="#4a4a4a" stroke-width="1.3" />
<line x1="1723.29" y1="35.50" x2="1723.29" y2="43.50" stroke="#4a4a4a" stroke-width="1.3" />
<line x1="1834.44" y1="641.30" x2="1834.44" y2="633.30" stroke="#4a4a4a" stroke-width="1.3" />
<line x1="1834.44" y1="35.50" x2="1834.44" y2="43.50" stroke="#4a4a4a" stroke-width="1.3" />
<line x1="1167.50" y1="75.89" x2="1175.50" y2="75.89" stroke="#4a4a4a" stroke-width="1.3" />
<line x1="1945.60" y1="75.89" x2="1937.60" y2="75.89" stroke="#4a4a4a" stroke-width="1.3" />
<line x1="1167.50" y1="156.66" x2="1175.50" y2="156.66" stroke="#4a4a4a" stroke-width="1.3" />
<line x1="1945.60" y1="156.66" x2="1937.60" y2="156.66" stroke="#4a4a4a" stroke-width="1.3" />
<line x1="1167.50" y1="237.43" x2="1175.50" y2="237.43" stroke="#4a4a4a" stroke-width="1.3" />
<line x1="1945.60" y1="237.43" x2="1937.60" y2="237.43" stroke="#4a4a4a" stroke-width="1.3" />
<line x1="1167.50" y1="318.21" x2="1175.50" y2="318.21" stroke="#4a4a4a" stroke-width="1.3" />
<line x1="1945.60" y1="318.21" x2="1937.60" y2="318.21" stroke="#4a4a4a" stroke-width="1.3" />
<line x1="1167.50" y1="398.98" x2="1175.50" y2="398.98" stroke="#4a4a4a" stroke-width="1.3" />
<line x1="1945.60" y1="398.98" x2="1937.60" y2="398.98" stroke="#4a4a4a" stroke-width="1.3" />
<line x1="1167.50" y1="479.75" x2="1175.50" y2="479.75" stroke="#4a4a4a" stroke-width="1.3" />
<line x1="1945.60" y1="479.75" x2="1937.60" y2="479.75" stroke="#4a4a4a" stroke-width="1.3" />
<line x1="1167.50" y1="560.53" x2="1175.50" y2="560.53" stroke="#4a4a4a" stroke-width="1.3" />
<line x1="1945.60" y1="560.53" x2="1937.60" y2="560.53" stroke="#4a4a4a" stroke-width="1.3" />
<line x1="1167.50" y1="641.30" x2="1175.50" y2="641.30" stroke="#4a4a4a" stroke-width="1.3" />
<line x1="1945.60" y1="641.30" x2="1937.60" y2="641.30" stroke="#4a4a4a" stroke-width="1.3" />
<text x="1167.5" y="682.6" font-size="32.6" text-anchor="middle" fill="#1a1a1a" stroke="#1a1a1a" stroke-width="0.35" font-weight="normal" >34.92</text>
<text x="1278.7" y="682.6" font-size="32.6" text-anchor="middle" fill="#1a1a1a" stroke="#1a1a1a" stroke-width="0.35" font-weight="normal" >34.93</text>
<text x="1389.8" y="682.6" font-size="32.6" text-anchor="middle" fill="#1a1a1a" stroke="#1a1a1a" stroke-width="0.35" font-weight="normal" >34.94</text>
<text x="1501.0" y="682.6" font-size="32.6" text-anchor="middle" fill="#1a1a1a" stroke="#1a1a1a" stroke-width="0.35" font-weight="normal" >34.95</text>
<text x="1612.1" y="682.6" font-size="32.6" text-anchor="middle" fill="#1a1a1a" stroke="#1a1a1a" stroke-width="0.35" font-weight="normal" >34.96</text>
<text x="1723.3" y="682.6" font-size="32.6" text-anchor="middle" fill="#1a1a1a" stroke="#1a1a1a" stroke-width="0.35" font-weight="normal" >34.97</text>
<text x="1834.4" y="682.6" font-size="32.6" text-anchor="middle" fill="#1a1a1a" stroke="#1a1a1a" stroke-width="0.35" font-weight="normal" >34.98</text>
<text x="1945.6" y="682.6" font-size="32.6" text-anchor="middle" fill="#1a1a1a" stroke="#1a1a1a" stroke-width="0.35" font-weight="normal" >34.99</text>
<text x="1157.3" y="88.4" font-size="32.6" text-anchor="end" fill="#1a1a1a" stroke="#1a1a1a" stroke-width="0.35" font-weight="normal" >3.6</text>
<text x="1157.3" y="169.2" font-size="32.6" text-anchor="end" fill="#1a1a1a" stroke="#1a1a1a" stroke-width="0.35" font-weight="normal" >3.4</text>
<text x="1157.3" y="249.9" font-size="32.6" text-anchor="end" fill="#1a1a1a" stroke="#1a1a1a" stroke-width="0.35" font-weight="normal" >3.2</text>
<text x="1157.3" y="330.7" font-size="32.6" text-anchor="end" fill="#1a1a1a" stroke="#1a1a1a" stroke-width="0.35" font-weight="normal" >3</text>
<text x="1157.3" y="411.5" font-size="32.6" text-anchor="end" fill="#1a1a1a" stroke="#1a1a1a" stroke-width="0.35" font-weight="normal" >2.8</text>
<text x="1157.3" y="492.3" font-size="32.6" text-anchor="end" fill="#1a1a1a" stroke="#1a1a1a" stroke-width="0.35" font-weight="normal" >2.6</text>
<text x="1157.3" y="573.0" font-size="32.6" text-anchor="end" fill="#1a1a1a" stroke="#1a1a1a" stroke-width="0.35" font-weight="normal" >2.4</text>
<text x="1157.3" y="653.8" font-size="32.6" text-anchor="end" fill="#1a1a1a" stroke="#1a1a1a" stroke-width="0.35" font-weight="normal" >2.2</text>
<text x="1556.8" y="725.5" font-size="36.6" text-anchor="middle" fill="#1a1a1a" stroke="#1a1a1a" stroke-width="0.35" font-weight="normal" textLength="115.5" lengthAdjust="spacingAndGlyphs">Salinity</text>
<text x="1098.7" y="339.4" font-size="36.2" text-anchor="middle" fill="#1a1a1a" stroke="#1a1a1a" stroke-width="0.35" font-weight="normal" textLength="325" lengthAdjust="spacingAndGlyphs" transform="rotate(-90 1098.7 339.4)">Temperature (deg C)</text>
</g>
<line x1="309.27" y1="817.40" x2="309.27" y2="1607.30" stroke="#e4e4e4" stroke-width="1.2" />
<line x1="482.73" y1="817.40" x2="482.73" y2="1607.30" stroke="#e4e4e4" stroke-width="1.2" />
<line x1="656.20" y1="817.40" x2="656.20" y2="1607.30" stroke="#e4e4e4" stroke-width="1.2" />
<line x1="829.67" y1="817.40" x2="829.67" y2="1607.30" stroke="#e4e4e4" stroke-width="1.2" />
<line x1="135.80" y1="905.17" x2="916.40" y2="905.17" stroke="#e4e4e4" stroke-width="1.2" />
<line x1="135.80" y1="992.93" x2="916.40" y2="992.93" stroke="#e4e4e4" stroke-width="1.2" />
<line x1="135.80" y1="1080.70" x2="916.40" y2="1080.70" stroke="#e4e4e4" stroke-width="1.2" />
<line x1="135.80" y1="1168.47" x2="916.40" y2="1168.47" stroke="#e4e4e4" stroke-width="1.2" />
<line x1="135.80" y1="1256.23" x2="916.40" y2="1256.23" stroke="#e4e4e4" stroke-width="1.2" />
<line x1="135.80" y1="1344.00" x2="916.40" y2="1344.00" stroke="#e4e4e4" stroke-width="1.2" />
<line x1="135.80" y1="1431.77" x2="916.40" y2="1431.77" stroke="#e4e4e4" stroke-width="1.2" />
<line x1="135.80" y1="1519.53" x2="916.40" y2="1519.53" stroke="#e4e4e4" stroke-width="1.2" />
<line x1="656.20" y1="817.40" x2="656.20" y2="1607.30" stroke="#ffffff" stroke-width="4.5" />
<rect x="458.8" y="992.9" width="197.4" height="87.8" fill="#808080" stroke="#1c1c1c" stroke-width="1.1"/>
<rect x="203.5" y="1080.7" width="452.7" height="87.8" fill="#808080" stroke="#1c1c1c" stroke-width="1.1"/>
<rect x="275.2" y="1168.5" width="381.0" height="87.8" fill="#808080" stroke="#1c1c1c" stroke-width="1.1"/>
<rect x="631.4" y="1256.2" width="24.8" height="87.8" fill="#808080" stroke="#1c1c1c" stroke-width="1.1"/>
<rect x="629.5" y="1344.0" width="26.7" height="87.8" fill="#808080" stroke="#1c1c1c" stroke-width="1.1"/>
<line x1="656.20" y1="823.40" x2="656.20" y2="1607.30" stroke="#3a3a3a" stroke-width="1.7" stroke-dasharray="9 6"/>
<line x1="656.20" y1="992.93" x2="656.20" y2="1431.77" stroke="#1c1c1c" stroke-width="1.7" />
<rect x="135.8" y="817.4" width="780.6" height="789.9" fill="none" stroke="#3c3c3c" stroke-width="1.4"/>
<line x1="309.27" y1="1607.30" x2="309.27" y2="1599.30" stroke="#3c3c3c" stroke-width="1.3" />
<line x1="309.27" y1="817.40" x2="309.27" y2="825.40" stroke="#3c3c3c" stroke-width="1.3" />
<line x1="482.73" y1="1607.30" x2="482.73" y2="1599.30" stroke="#3c3c3c" stroke-width="1.3" />
<line x1="482.73" y1="817.40" x2="482.73" y2="825.40" stroke="#3c3c3c" stroke-width="1.3" />
<line x1="656.20" y1="1607.30" x2="656.20" y2="1599.30" stroke="#3c3c3c" stroke-width="1.3" />
<line x1="656.20" y1="817.40" x2="656.20" y2="825.40" stroke="#3c3c3c" stroke-width="1.3" />
<line x1="829.67" y1="1607.30" x2="829.67" y2="1599.30" stroke="#3c3c3c" stroke-width="1.3" />
<line x1="829.67" y1="817.40" x2="829.67" y2="825.40" stroke="#3c3c3c" stroke-width="1.3" />
<line x1="135.80" y1="817.40" x2="143.80" y2="817.40" stroke="#3c3c3c" stroke-width="1.3" />
<line x1="916.40" y1="817.40" x2="908.40" y2="817.40" stroke="#3c3c3c" stroke-width="1.3" />
<line x1="135.80" y1="905.17" x2="143.80" y2="905.17" stroke="#3c3c3c" stroke-width="1.3" />
<line x1="916.40" y1="905.17" x2="908.40" y2="905.17" stroke="#3c3c3c" stroke-width="1.3" />
<line x1="135.80" y1="992.93" x2="143.80" y2="992.93" stroke="#3c3c3c" stroke-width="1.3" />
<line x1="916.40" y1="992.93" x2="908.40" y2="992.93" stroke="#3c3c3c" stroke-width="1.3" />
<line x1="135.80" y1="1080.70" x2="143.80" y2="1080.70" stroke="#3c3c3c" stroke-width="1.3" />
<line x1="916.40" y1="1080.70" x2="908.40" y2="1080.70" stroke="#3c3c3c" stroke-width="1.3" />
<line x1="135.80" y1="1168.47" x2="143.80" y2="1168.47" stroke="#3c3c3c" stroke-width="1.3" />
<line x1="916.40" y1="1168.47" x2="908.40" y2="1168.47" stroke="#3c3c3c" stroke-width="1.3" />
<line x1="135.80" y1="1256.23" x2="143.80" y2="1256.23" stroke="#3c3c3c" stroke-width="1.3" />
<line x1="916.40" y1="1256.23" x2="908.40" y2="1256.23" stroke="#3c3c3c" stroke-width="1.3" />
<line x1="135.80" y1="1344.00" x2="143.80" y2="1344.00" stroke="#3c3c3c" stroke-width="1.3" />
<line x1="916.40" y1="1344.00" x2="908.40" y2="1344.00" stroke="#3c3c3c" stroke-width="1.3" />
<line x1="135.80" y1="1431.77" x2="143.80" y2="1431.77" stroke="#3c3c3c" stroke-width="1.3" />
<line x1="916.40" y1="1431.77" x2="908.40" y2="1431.77" stroke="#3c3c3c" stroke-width="1.3" />
<line x1="135.80" y1="1519.53" x2="143.80" y2="1519.53" stroke="#3c3c3c" stroke-width="1.3" />
<line x1="916.40" y1="1519.53" x2="908.40" y2="1519.53" stroke="#3c3c3c" stroke-width="1.3" />
<line x1="135.80" y1="1607.30" x2="143.80" y2="1607.30" stroke="#3c3c3c" stroke-width="1.3" />
<line x1="916.40" y1="1607.30" x2="908.40" y2="1607.30" stroke="#3c3c3c" stroke-width="1.3" />
<text x="135.8" y="1648.8" font-size="32.6" text-anchor="middle" fill="#1a1a1a" stroke="#1a1a1a" stroke-width="0.35" font-weight="normal" >-0.6</text>
<text x="309.3" y="1648.8" font-size="32.6" text-anchor="middle" fill="#1a1a1a" stroke="#1a1a1a" stroke-width="0.35" font-weight="normal" >-0.4</text>
<text x="482.7" y="1648.8" font-size="32.6" text-anchor="middle" fill="#1a1a1a" stroke="#1a1a1a" stroke-width="0.35" font-weight="normal" >-0.2</text>
<text x="656.2" y="1648.8" font-size="32.6" text-anchor="middle" fill="#1a1a1a" stroke="#1a1a1a" stroke-width="0.35" font-weight="normal" >0</text>
<text x="829.7" y="1648.8" font-size="32.6" text-anchor="middle" fill="#1a1a1a" stroke="#1a1a1a" stroke-width="0.35" font-weight="normal" >0.2</text>
<text x="926.0" y="829.2" font-size="32.6" text-anchor="start" fill="#1a1a1a" stroke="#1a1a1a" stroke-width="0.35" font-weight="normal" >3.8</text>
<text x="926.0" y="917.0" font-size="32.6" text-anchor="start" fill="#1a1a1a" stroke="#1a1a1a" stroke-width="0.35" font-weight="normal" >3.7</text>
<text x="926.0" y="1004.7" font-size="32.6" text-anchor="start" fill="#1a1a1a" stroke="#1a1a1a" stroke-width="0.35" font-weight="normal" >3.6</text>
<text x="926.0" y="1092.5" font-size="32.6" text-anchor="start" fill="#1a1a1a" stroke="#1a1a1a" stroke-width="0.35" font-weight="normal" >3.5</text>
<text x="926.0" y="1180.3" font-size="32.6" text-anchor="start" fill="#1a1a1a" stroke="#1a1a1a" stroke-width="0.35" font-weight="normal" >3.4</text>
<text x="926.0" y="1268.0" font-size="32.6" text-anchor="start" fill="#1a1a1a" stroke="#1a1a1a" stroke-width="0.35" font-weight="normal" >3.3</text>
<text x="926.0" y="1355.8" font-size="32.6" text-anchor="start" fill="#1a1a1a" stroke="#1a1a1a" stroke-width="0.35" font-weight="normal" >3.2</text>
<text x="926.0" y="1443.6" font-size="32.6" text-anchor="start" fill="#1a1a1a" stroke="#1a1a1a" stroke-width="0.35" font-weight="normal" >3.1</text>
<text x="926.0" y="1531.3" font-size="32.6" text-anchor="start" fill="#1a1a1a" stroke="#1a1a1a" stroke-width="0.35" font-weight="normal" >3</text>
<text x="926.0" y="1619.1" font-size="32.6" text-anchor="start" fill="#1a1a1a" stroke="#1a1a1a" stroke-width="0.35" font-weight="normal" >2.9</text>
<text x="526.1" y="806.9" font-size="36.6" text-anchor="middle" fill="#1a1a1a" stroke="#1a1a1a" stroke-width="0.35" font-weight="normal" >Middle section</text>
<text x="526.1" y="1693.6" font-size="36.6" text-anchor="middle" fill="#1a1a1a" stroke="#1a1a1a" stroke-width="0.35" font-weight="normal" textLength="229" lengthAdjust="spacingAndGlyphs">Transport (Sv)</text>
<line x1="1337.58" y1="817.90" x2="1337.58" y2="1607.80" stroke="#e4e4e4" stroke-width="1.2" />
<line x1="1510.96" y1="817.90" x2="1510.96" y2="1607.80" stroke="#e4e4e4" stroke-width="1.2" />
<line x1="1684.33" y1="817.90" x2="1684.33" y2="1607.80" stroke="#e4e4e4" stroke-width="1.2" />
<line x1="1857.71" y1="817.90" x2="1857.71" y2="1607.80" stroke="#e4e4e4" stroke-width="1.2" />
<line x1="1164.20" y1="905.67" x2="1944.40" y2="905.67" stroke="#e4e4e4" stroke-width="1.2" />
<line x1="1164.20" y1="993.43" x2="1944.40" y2="993.43" stroke="#e4e4e4" stroke-width="1.2" />
<line x1="1164.20" y1="1081.20" x2="1944.40" y2="1081.20" stroke="#e4e4e4" stroke-width="1.2" />
<line x1="1164.20" y1="1168.97" x2="1944.40" y2="1168.97" stroke="#e4e4e4" stroke-width="1.2" />
<line x1="1164.20" y1="1256.73" x2="1944.40" y2="1256.73" stroke="#e4e4e4" stroke-width="1.2" />
<line x1="1164.20" y1="1344.50" x2="1944.40" y2="1344.50" stroke="#e4e4e4" stroke-width="1.2" />
<line x1="1164.20" y1="1432.27" x2="1944.40" y2="1432.27" stroke="#e4e4e4" stroke-width="1.2" />
<line x1="1164.20" y1="1520.03" x2="1944.40" y2="1520.03" stroke="#e4e4e4" stroke-width="1.2" />
<line x1="1684.33" y1="817.90" x2="1684.33" y2="1607.80" stroke="#ffffff" stroke-width="4.5" />
<rect x="1611.7" y="905.7" width="72.6" height="87.8" fill="#808080" stroke="#1c1c1c" stroke-width="1.1"/>
<rect x="1383.6" y="993.4" width="300.7" height="87.8" fill="#808080" stroke="#1c1c1c" stroke-width="1.1"/>
<rect x="1524.4" y="1081.2" width="159.9" height="87.8" fill="#808080" stroke="#1c1c1c" stroke-width="1.1"/>
<rect x="1528.0" y="1169.0" width="156.3" height="87.8" fill="#808080" stroke="#1c1c1c" stroke-width="1.1"/>
<rect x="1610.9" y="1256.7" width="73.4" height="87.8" fill="#808080" stroke="#1c1c1c" stroke-width="1.1"/>
<rect x="1632.7" y="1344.5" width="51.6" height="87.8" fill="#808080" stroke="#1c1c1c" stroke-width="1.1"/>
<rect x="1670.0" y="1432.3" width="14.3" height="87.8" fill="#808080" stroke="#1c1c1c" stroke-width="1.1"/>
<line x1="1684.33" y1="823.90" x2="1684.33" y2="1607.80" stroke="#3a3a3a" stroke-width="1.7" stroke-dasharray="9 6"/>
<line x1="1684.33" y1="905.67" x2="1684.33" y2="1520.03" stroke="#1c1c1c" stroke-width="1.7" />
<rect x="1164.2" y="817.9" width="780.2" height="789.9" fill="none" stroke="#4a4a4a" stroke-width="1.4"/>
<line x1="1337.58" y1="1607.80" x2="1337.58" y2="1599.80" stroke="#4a4a4a" stroke-width="1.3" />
<line x1="1337.58" y1="817.90" x2="1337.58" y2="825.90" stroke="#4a4a4a" stroke-width="1.3" />
<line x1="1510.96" y1="1607.80" x2="1510.96" y2="1599.80" stroke="#4a4a4a" stroke-width="1.3" />
<line x1="1510.96" y1="817.90" x2="1510.96" y2="825.90" stroke="#4a4a4a" stroke-width="1.3" />
<line x1="1684.33" y1="1607.80" x2="1684.33" y2="1599.80" stroke="#4a4a4a" stroke-width="1.3" />
<line x1="1684.33" y1="817.90" x2="1684.33" y2="825.90" stroke="#4a4a4a" stroke-width="1.3" />
<line x1="1857.71" y1="1607.80" x2="1857.71" y2="1599.80" stroke="#4a4a4a" stroke-width="1.3" />
<line x1="1857.71" y1="817.90" x2="1857.71" y2="825.90" stroke="#4a4a4a" stroke-width="1.3" />
<line x1="1164.20" y1="817.90" x2="1172.20" y2="817.90" stroke="#4a4a4a" stroke-width="1.3" />
<line x1="1944.40" y1="817.90" x2="1936.40" y2="817.90" stroke="#4a4a4a" stroke-width="1.3" />
<line x1="1164.20" y1="905.67" x2="1172.20" y2="905.67" stroke="#4a4a4a" stroke-width="1.3" />
<line x1="1944.40" y1="905.67" x2="1936.40" y2="905.67" stroke="#4a4a4a" stroke-width="1.3" />
<line x1="1164.20" y1="993.43" x2="1172.20" y2="993.43" stroke="#4a4a4a" stroke-width="1.3" />
<line x1="1944.40" y1="993.43" x2="1936.40" y2="993.43" stroke="#4a4a4a" stroke-width="1.3" />
<line x1="1164.20" y1="1081.20" x2="1172.20" y2="1081.20" stroke="#4a4a4a" stroke-width="1.3" />
<line x1="1944.40" y1="1081.20" x2="1936.40" y2="1081.20" stroke="#4a4a4a" stroke-width="1.3" />
<line x1="1164.20" y1="1168.97" x2="1172.20" y2="1168.97" stroke="#4a4a4a" stroke-width="1.3" />
<line x1="1944.40" y1="1168.97" x2="1936.40" y2="1168.97" stroke="#4a4a4a" stroke-width="1.3" />
<line x1="1164.20" y1="1256.73" x2="1172.20" y2="1256.73" stroke="#4a4a4a" stroke-width="1.3" />
<line x1="1944.40" y1="1256.73" x2="1936.40" y2="1256.73" stroke="#4a4a4a" stroke-width="1.3" />
<line x1="1164.20" y1="1344.50" x2="1172.20" y2="1344.50" stroke="#4a4a4a" stroke-width="1.3" />
<line x1="1944.40" y1="1344.50" x2="1936.40" y2="1344.50" stroke="#4a4a4a" stroke-width="1.3" />
<line x1="1164.20" y1="1432.27" x2="1172.20" y2="1432.27" stroke="#4a4a4a" stroke-width="1.3" />
<line x1="1944.40" y1="1432.27" x2="1936.40" y2="1432.27" stroke="#4a4a4a" stroke-width="1.3" />
<line x1="1164.20" y1="1520.03" x2="1172.20" y2="1520.03" stroke="#4a4a4a" stroke-width="1.3" />
<line x1="1944.40" y1="1520.03" x2="1936.40" y2="1520.03" stroke="#4a4a4a" stroke-width="1.3" />
<line x1="1164.20" y1="1607.80" x2="1172.20" y2="1607.80" stroke="#4a4a4a" stroke-width="1.3" />
<line x1="1944.40" y1="1607.80" x2="1936.40" y2="1607.80" stroke="#4a4a4a" stroke-width="1.3" />
<text x="1164.2" y="1649.3" font-size="32.6" text-anchor="middle" fill="#1a1a1a" stroke="#1a1a1a" stroke-width="0.35" font-weight="normal" >-0.6</text>
<text x="1337.6" y="1649.3" font-size="32.6" text-anchor="middle" fill="#1a1a1a" stroke="#1a1a1a" stroke-width="0.35" font-weight="normal" >-0.4</text>
<text x="1511.0" y="1649.3" font-size="32.6" text-anchor="middle" fill="#1a1a1a" stroke="#1a1a1a" stroke-width="0.35" font-weight="normal" >-0.2</text>
<text x="1684.3" y="1649.3" font-size="32.6" text-anchor="middle" fill="#1a1a1a" stroke="#1a1a1a" stroke-width="0.35" font-weight="normal" >0</text>
<text x="1857.7" y="1649.3" font-size="32.6" text-anchor="middle" fill="#1a1a1a" stroke="#1a1a1a" stroke-width="0.35" font-weight="normal" >0.2</text>
<text x="1954.0" y="829.7" font-size="32.6" text-anchor="start" fill="#1a1a1a" stroke="#1a1a1a" stroke-width="0.35" font-weight="normal" >3.8</text>
<text x="1954.0" y="917.5" font-size="32.6" text-anchor="start" fill="#1a1a1a" stroke="#1a1a1a" stroke-width="0.35" font-weight="normal" >3.7</text>
<text x="1954.0" y="1005.2" font-size="32.6" text-anchor="start" fill="#1a1a1a" stroke="#1a1a1a" stroke-width="0.35" font-weight="normal" >3.6</text>
<text x="1954.0" y="1093.0" font-size="32.6" text-anchor="start" fill="#1a1a1a" stroke="#1a1a1a" stroke-width="0.35" font-weight="normal" >3.5</text>
<text x="1954.0" y="1180.8" font-size="32.6" text-anchor="start" fill="#1a1a1a" stroke="#1a1a1a" stroke-width="0.35" font-weight="normal" >3.4</text>
<text x="1954.0" y="1268.5" font-size="32.6" text-anchor="start" fill="#1a1a1a" stroke="#1a1a1a" stroke-width="0.35" font-weight="normal" >3.3</text>
<text x="1954.0" y="1356.3" font-size="32.6" text-anchor="start" fill="#1a1a1a" stroke="#1a1a1a" stroke-width="0.35" font-weight="normal" >3.2</text>
<text x="1954.0" y="1444.1" font-size="32.6" text-anchor="start" fill="#1a1a1a" stroke="#1a1a1a" stroke-width="0.35" font-weight="normal" >3.1</text>
<text x="1954.0" y="1531.8" font-size="32.6" text-anchor="start" fill="#1a1a1a" stroke="#1a1a1a" stroke-width="0.35" font-weight="normal" >3</text>
<text x="1954.0" y="1619.6" font-size="32.6" text-anchor="start" fill="#1a1a1a" stroke="#1a1a1a" stroke-width="0.35" font-weight="normal" >2.9</text>
<text x="1554.3" y="807.4" font-size="36.6" text-anchor="middle" fill="#1a1a1a" stroke="#1a1a1a" stroke-width="0.35" font-weight="normal" >East section</text>
<text x="1554.3" y="1694.1" font-size="36.6" text-anchor="middle" fill="#1a1a1a" stroke="#1a1a1a" stroke-width="0.35" font-weight="normal" textLength="229" lengthAdjust="spacingAndGlyphs">Transport (Sv)</text>
<text x="2042.6" y="1214.3" font-size="36.2" text-anchor="middle" fill="#1a1a1a" stroke="#1a1a1a" stroke-width="0.35" font-weight="normal" textLength="274.5" lengthAdjust="spacingAndGlyphs" transform="rotate(-90 2042.6 1214.3)">Temperature (°C)</text>
</svg></body></html>
